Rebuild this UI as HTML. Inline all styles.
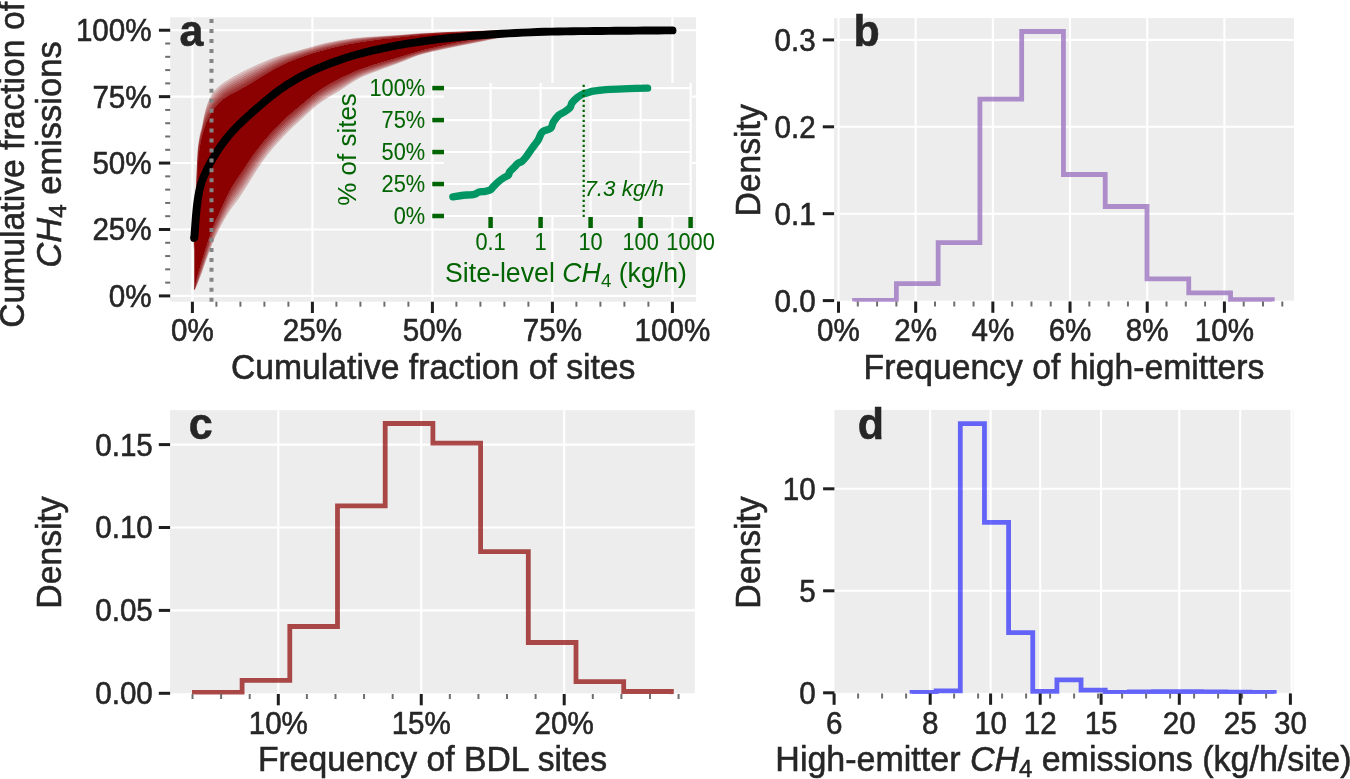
<!DOCTYPE html>
<html><head><meta charset="utf-8"><style>
html,body{margin:0;padding:0;background:#fff;width:1350px;height:779px;overflow:hidden}
svg{display:block;font-family:"Liberation Sans", sans-serif;will-change:transform}
</style></head><body>
<svg width="1350" height="779" viewBox="0 0 1350 779">
<rect x="170.2" y="17.3" width="525.8" height="284.4" fill="#EDEDED"/>
<line x1="170.2" y1="295.9" x2="696" y2="295.9" stroke="#FFFFFF" stroke-width="2.1" />
<line x1="192.4" y1="17.3" x2="192.4" y2="301.7" stroke="#FFFFFF" stroke-width="2.1" />
<line x1="170.2" y1="229.48" x2="696" y2="229.48" stroke="#FFFFFF" stroke-width="2.1" />
<line x1="312.4" y1="17.3" x2="312.4" y2="301.7" stroke="#FFFFFF" stroke-width="2.1" />
<line x1="170.2" y1="163.07" x2="696" y2="163.07" stroke="#FFFFFF" stroke-width="2.1" />
<line x1="432.4" y1="17.3" x2="432.4" y2="301.7" stroke="#FFFFFF" stroke-width="2.1" />
<line x1="170.2" y1="96.65" x2="696" y2="96.65" stroke="#FFFFFF" stroke-width="2.1" />
<line x1="552.4" y1="17.3" x2="552.4" y2="301.7" stroke="#FFFFFF" stroke-width="2.1" />
<line x1="170.2" y1="30.24" x2="696" y2="30.24" stroke="#FFFFFF" stroke-width="2.1" />
<line x1="672.4" y1="17.3" x2="672.4" y2="301.7" stroke="#FFFFFF" stroke-width="2.1" />
<path d="M194.3,289 L194.32,288.91 L194.39,288.61 L194.51,288.1 L194.67,287.42 L194.88,286.53 L195.14,285.43 L195.44,284.19 L195.78,282.79 L196.18,281.19 L196.62,279.46 L197.11,277.59 L197.64,275.62 L198.22,273.53 L198.85,271.31 L199.52,269 L200.24,266.56 L201,264 L201.82,261.27 L202.67,258.47 L203.58,255.53 L204.53,252.49 L205.53,249.34 L206.57,246.09 L207.66,242.68 L208.8,239.1 L209.98,235.45 L211.21,231.81 L212.49,228.29 L213.81,224.97 L215.18,221.74 L216.59,218.59 L218.06,215.41 L219.56,212.22 L221.12,208.88 L222.72,205.4 L224.37,201.83 L226.06,198.23 L227.8,194.66 L229.59,191.19 L231.42,187.93 L233.3,184.85 L235.22,181.9 L237.19,179.01 L239.21,176.1 L241.28,173.08 L243.39,169.89 L245.55,166.56 L247.75,163.17 L250,159.76 L252,156.81 L257.04,149.93 L262.09,143.51 L267.13,137.5 L272.17,131.82 L277.22,126.43 L282.26,121.39 L287.3,116.72 L292.35,112.36 L297.39,108.16 L302.43,103.96 L307.48,99.7 L312.52,95.55 L317.57,91.69 L322.61,88.29 L327.65,85.2 L332.7,82.33 L337.74,79.65 L342.78,77.11 L347.83,74.69 L352.87,72.41 L357.91,70.31 L362.96,68.41 L368,66.67 L373.04,65.05 L378.09,63.49 L383.13,61.95 L388.17,60.49 L393.22,59.06 L398.26,57.61 L403.3,56.09 L408.35,54.49 L413.39,52.91 L418.43,51.43 L423.48,50.1 L428.52,48.85 L433.57,47.66 L438.61,46.52 L443.65,45.43 L448.7,44.37 L453.74,43.34 L458.78,42.34 L463.83,41.37 L468.87,40.43 L473.91,39.53 L478.96,38.67 L484,37.84 L489.04,37.04 L494.09,36.28 L499.13,35.61 L504.17,35.01 L509.22,34.46 L514.26,33.97 L519.3,33.55 L524.35,33.19 L529.39,32.84 L534.43,32.52 L539.48,32.22 L544.52,31.95 L549.57,31.71 L554.61,31.49 L559.65,31.31 L564.7,31.15 L569.74,31 L574.78,30.86 L579.83,30.73 L584.87,30.61 L589.91,30.52 L594.96,30.45 L600,30.4 L600,30.2 L594.96,30.2 L589.91,30.21 L584.87,30.22 L579.83,30.23 L574.78,30.24 L569.74,30.26 L564.7,30.28 L559.65,30.3 L554.61,30.33 L549.57,30.37 L544.52,30.42 L539.48,30.48 L534.43,30.54 L529.39,30.61 L524.35,30.68 L519.3,30.77 L514.26,30.87 L509.22,30.98 L504.17,31.1 L499.13,31.22 L494.09,31.36 L489.04,31.51 L484,31.67 L478.96,31.84 L473.91,32.01 L468.87,32.19 L463.83,32.39 L458.78,32.59 L453.74,32.82 L448.7,33.07 L443.65,33.34 L438.61,33.64 L433.57,33.97 L428.52,34.33 L423.48,34.71 L418.43,35.14 L413.39,35.65 L408.35,36.24 L403.3,36.83 L398.26,37.38 L393.22,37.89 L388.17,38.4 L383.13,38.93 L378.09,39.54 L373.04,40.2 L368,40.91 L362.96,41.67 L357.91,42.5 L352.87,43.39 L347.83,44.37 L342.78,45.45 L337.74,46.61 L332.7,47.82 L327.65,49.1 L322.61,50.44 L317.57,51.86 L312.52,53.36 L307.48,54.95 L302.43,56.65 L297.39,58.45 L292.35,60.43 L287.3,62.59 L282.26,64.91 L277.22,67.42 L272.17,70.25 L267.13,73.24 L262.09,76.26 L257.04,79.4 L252,82.5 L250,83.7 L247.75,85.04 L245.55,86.34 L243.39,87.6 L241.28,88.79 L239.21,89.93 L237.19,90.98 L235.22,91.97 L233.3,92.95 L231.42,93.94 L229.59,94.92 L227.8,95.9 L226.06,96.96 L224.37,98.14 L222.72,99.41 L221.12,100.76 L219.56,102.21 L218.06,103.8 L216.59,105.48 L215.18,107.21 L213.81,109.03 L212.49,110.92 L211.21,113.01 L209.98,115.45 L208.8,117.73 L207.66,119.7 L206.57,121.99 L205.53,124.74 L204.53,127.53 L203.58,130.28 L202.67,133.34 L201.82,136.64 L201,140.26 L200.24,144.1 L199.52,148.27 L198.85,153.29 L198.22,160 L197.64,169.8 L197.11,181.79 L196.62,191.53 L196.18,200.42 L195.78,209.05 L195.44,216.73 L195.14,223.71 L194.88,229.97 L194.67,235.93 L194.51,241.52 L194.39,246.24 L194.32,249.15 L194.3,250 Z" fill="#8B0000"/>
<path d="M194.3,289.02 L194.32,288.93 L194.39,288.64 L194.51,288.13 L194.67,287.45 L194.88,286.57 L195.14,285.49 L195.44,284.26 L195.78,282.88 L196.18,281.28 L196.62,279.57 L197.11,277.71 L197.64,275.76 L198.22,273.68 L198.85,271.47 L199.52,269.18 L200.24,266.75 L201,264.2 L201.82,261.48 L202.67,258.69 L203.58,255.75 L204.53,252.72 L205.53,249.57 L206.57,246.34 L207.66,242.93 L208.8,239.36 L209.98,235.72 L211.21,232.08 L212.49,228.57 L213.81,225.26 L215.18,222.03 L216.59,218.89 L218.06,215.72 L219.56,212.53 L221.12,209.19 L222.72,205.73 L224.37,202.16 L226.06,198.58 L227.8,195.03 L229.59,191.57 L231.42,188.33 L233.3,185.26 L235.22,182.32 L237.19,179.43 L239.21,176.52 L241.28,173.5 L243.39,170.3 L245.55,166.98 L247.75,163.58 L250,160.16 L252,157.21 L257.04,150.31 L262.09,143.87 L267.13,137.84 L272.17,132.16 L277.22,126.76 L282.26,121.71 L287.3,117.03 L292.35,112.65 L297.39,108.44 L302.43,104.24 L307.48,99.96 L312.52,95.81 L317.57,91.94 L322.61,88.54 L327.65,85.44 L332.7,82.57 L337.74,79.89 L342.78,77.33 L347.83,74.89 L352.87,72.6 L357.91,70.48 L362.96,68.56 L368,66.82 L373.04,65.19 L378.09,63.62 L383.13,62.08 L388.17,60.61 L393.22,59.17 L398.26,57.72 L403.3,56.19 L408.35,54.58 L413.39,52.99 L418.43,51.5 L423.48,50.16 L428.52,48.91 L433.57,47.72 L438.61,46.59 L443.65,45.5 L448.7,44.44 L453.74,43.4 L458.78,42.4 L463.83,41.43 L468.87,40.5 L473.91,39.6 L478.96,38.73 L484,37.9 L489.04,37.09 L494.09,36.33 L499.13,35.65 L504.17,35.05 L509.22,34.5 L514.26,34 L519.3,33.57 L524.35,33.21 L529.39,32.86 L534.43,32.53 L539.48,32.23 L544.52,31.96 L549.57,31.71 L554.61,31.5 L559.65,31.32 L564.7,31.16 L569.74,31 L574.78,30.86 L579.83,30.73 L584.87,30.61 L589.91,30.52 L594.96,30.45 L600,30.4 L600,30.4 L594.96,30.45 L589.91,30.52 L584.87,30.61 L579.83,30.73 L574.78,30.86 L569.74,31 L564.7,31.15 L559.65,31.31 L554.61,31.49 L549.57,31.71 L544.52,31.95 L539.48,32.22 L534.43,32.52 L529.39,32.84 L524.35,33.19 L519.3,33.55 L514.26,33.97 L509.22,34.46 L504.17,35.01 L499.13,35.61 L494.09,36.28 L489.04,37.04 L484,37.84 L478.96,38.67 L473.91,39.53 L468.87,40.43 L463.83,41.37 L458.78,42.34 L453.74,43.34 L448.7,44.37 L443.65,45.43 L438.61,46.52 L433.57,47.66 L428.52,48.85 L423.48,50.1 L418.43,51.43 L413.39,52.91 L408.35,54.49 L403.3,56.09 L398.26,57.61 L393.22,59.06 L388.17,60.49 L383.13,61.95 L378.09,63.49 L373.04,65.05 L368,66.67 L362.96,68.41 L357.91,70.31 L352.87,72.41 L347.83,74.69 L342.78,77.11 L337.74,79.65 L332.7,82.33 L327.65,85.2 L322.61,88.29 L317.57,91.69 L312.52,95.55 L307.48,99.7 L302.43,103.96 L297.39,108.16 L292.35,112.36 L287.3,116.72 L282.26,121.39 L277.22,126.43 L272.17,131.82 L267.13,137.5 L262.09,143.51 L257.04,149.93 L252,156.81 L250,159.76 L247.75,163.17 L245.55,166.56 L243.39,169.89 L241.28,173.08 L239.21,176.1 L237.19,179.01 L235.22,181.9 L233.3,184.85 L231.42,187.93 L229.59,191.19 L227.8,194.66 L226.06,198.23 L224.37,201.83 L222.72,205.4 L221.12,208.88 L219.56,212.22 L218.06,215.41 L216.59,218.59 L215.18,221.74 L213.81,224.97 L212.49,228.29 L211.21,231.81 L209.98,235.45 L208.8,239.1 L207.66,242.68 L206.57,246.09 L205.53,249.34 L204.53,252.49 L203.58,255.53 L202.67,258.47 L201.82,261.27 L201,264 L200.24,266.56 L199.52,269 L198.85,271.31 L198.22,273.53 L197.64,275.62 L197.11,277.59 L196.62,279.46 L196.18,281.19 L195.78,282.79 L195.44,284.19 L195.14,285.43 L194.88,286.53 L194.67,287.42 L194.51,288.1 L194.39,288.61 L194.32,288.91 L194.3,289 Z" fill="#8B0000" fill-opacity="0.17"/>
<path d="M194.3,250 L194.32,249.15 L194.39,246.24 L194.51,241.52 L194.67,235.93 L194.88,229.97 L195.14,223.71 L195.44,216.73 L195.78,209.05 L196.18,200.42 L196.62,191.53 L197.11,181.79 L197.64,169.8 L198.22,160 L198.85,153.29 L199.52,148.27 L200.24,144.1 L201,140.26 L201.82,136.64 L202.67,133.34 L203.58,130.28 L204.53,127.53 L205.53,124.74 L206.57,121.99 L207.66,119.7 L208.8,117.73 L209.98,115.45 L211.21,113.01 L212.49,110.92 L213.81,109.03 L215.18,107.21 L216.59,105.48 L218.06,103.8 L219.56,102.21 L221.12,100.76 L222.72,99.41 L224.37,98.14 L226.06,96.96 L227.8,95.9 L229.59,94.92 L231.42,93.94 L233.3,92.95 L235.22,91.97 L237.19,90.98 L239.21,89.93 L241.28,88.79 L243.39,87.6 L245.55,86.34 L247.75,85.04 L250,83.7 L252,82.5 L257.04,79.4 L262.09,76.26 L267.13,73.24 L272.17,70.25 L277.22,67.42 L282.26,64.91 L287.3,62.59 L292.35,60.43 L297.39,58.45 L302.43,56.65 L307.48,54.95 L312.52,53.36 L317.57,51.86 L322.61,50.44 L327.65,49.1 L332.7,47.82 L337.74,46.61 L342.78,45.45 L347.83,44.37 L352.87,43.39 L357.91,42.5 L362.96,41.67 L368,40.91 L373.04,40.2 L378.09,39.54 L383.13,38.93 L388.17,38.4 L393.22,37.89 L398.26,37.38 L403.3,36.83 L408.35,36.24 L413.39,35.65 L418.43,35.14 L423.48,34.71 L428.52,34.33 L433.57,33.97 L438.61,33.64 L443.65,33.34 L448.7,33.07 L453.74,32.82 L458.78,32.59 L463.83,32.39 L468.87,32.19 L473.91,32.01 L478.96,31.84 L484,31.67 L489.04,31.51 L494.09,31.36 L499.13,31.22 L504.17,31.1 L509.22,30.98 L514.26,30.87 L519.3,30.77 L524.35,30.68 L529.39,30.61 L534.43,30.54 L539.48,30.48 L544.52,30.42 L549.57,30.37 L554.61,30.33 L559.65,30.3 L564.7,30.28 L569.74,30.26 L574.78,30.24 L579.83,30.23 L584.87,30.22 L589.91,30.21 L594.96,30.2 L600,30.2 L600,30.2 L594.96,30.2 L589.91,30.2 L584.87,30.21 L579.83,30.23 L574.78,30.24 L569.74,30.26 L564.7,30.28 L559.65,30.3 L554.61,30.32 L549.57,30.36 L544.52,30.41 L539.48,30.47 L534.43,30.53 L529.39,30.6 L524.35,30.68 L519.3,30.76 L514.26,30.86 L509.22,30.97 L504.17,31.09 L499.13,31.21 L494.09,31.34 L489.04,31.49 L484,31.65 L478.96,31.82 L473.91,32 L468.87,32.18 L463.83,32.37 L458.78,32.58 L453.74,32.81 L448.7,33.05 L443.65,33.32 L438.61,33.62 L433.57,33.95 L428.52,34.31 L423.48,34.69 L418.43,35.11 L413.39,35.63 L408.35,36.21 L403.3,36.8 L398.26,37.34 L393.22,37.85 L388.17,38.35 L383.13,38.88 L378.09,39.48 L373.04,40.13 L368,40.83 L362.96,41.59 L357.91,42.41 L352.87,43.29 L347.83,44.27 L342.78,45.35 L337.74,46.5 L332.7,47.71 L327.65,48.98 L322.61,50.32 L317.57,51.73 L312.52,53.23 L307.48,54.82 L302.43,56.51 L297.39,58.31 L292.35,60.28 L287.3,62.42 L282.26,64.72 L277.22,67.21 L272.17,70.02 L267.13,72.99 L262.09,75.99 L257.04,79.12 L252,82.2 L250,83.39 L247.75,84.73 L245.55,86.03 L243.39,87.28 L241.28,88.47 L239.21,89.61 L237.19,90.66 L235.22,91.65 L233.3,92.63 L231.42,93.62 L229.59,94.6 L227.8,95.59 L226.06,96.65 L224.37,97.83 L222.72,99.1 L221.12,100.45 L219.56,101.89 L218.06,103.48 L216.59,105.15 L215.18,106.87 L213.81,108.69 L212.49,110.59 L211.21,112.68 L209.98,115.12 L208.8,117.39 L207.66,119.39 L206.57,121.7 L205.53,124.47 L204.53,127.29 L203.58,130.08 L202.67,133.18 L201.82,136.48 L201,140.08 L200.24,143.91 L199.52,148.08 L198.85,153.08 L198.22,159.76 L197.64,169.56 L197.11,181.55 L196.62,191.33 L196.18,200.24 L195.78,208.88 L195.44,216.57 L195.14,223.56 L194.88,229.84 L194.67,235.8 L194.51,241.38 L194.39,246.11 L194.32,249.04 L194.3,249.89 Z" fill="#8B0000" fill-opacity="0.17"/>
<path d="M194.3,289.06 L194.32,288.98 L194.39,288.69 L194.51,288.2 L194.67,287.54 L194.88,286.68 L195.14,285.62 L195.44,284.42 L195.78,283.07 L196.18,281.5 L196.62,279.82 L197.11,278 L197.64,276.08 L198.22,274.03 L198.85,271.85 L199.52,269.58 L200.24,267.17 L201,264.65 L201.82,261.95 L202.67,259.18 L203.58,256.25 L204.53,253.23 L205.53,250.1 L206.57,246.88 L207.66,243.49 L208.8,239.94 L209.98,236.32 L211.21,232.71 L212.49,229.21 L213.81,225.91 L215.18,222.7 L216.59,219.56 L218.06,216.39 L219.56,213.22 L221.12,209.9 L222.72,206.45 L224.37,202.92 L226.06,199.37 L227.8,195.85 L229.59,192.44 L231.42,189.22 L233.3,186.17 L235.22,183.25 L237.19,180.37 L239.21,177.46 L241.28,174.44 L243.39,171.24 L245.55,167.91 L247.75,164.51 L250,161.08 L252,158.12 L257.04,151.17 L262.09,144.67 L267.13,138.61 L272.17,132.91 L277.22,127.49 L282.26,122.42 L287.3,117.72 L292.35,113.31 L297.39,109.08 L302.43,104.86 L307.48,100.57 L312.52,96.39 L317.57,92.51 L322.61,89.09 L327.65,85.99 L332.7,83.11 L337.74,80.41 L342.78,77.83 L347.83,75.35 L352.87,73.01 L357.91,70.85 L362.96,68.91 L368,67.15 L373.04,65.51 L378.09,63.93 L383.13,62.37 L388.17,60.88 L393.22,59.42 L398.26,57.95 L403.3,56.41 L408.35,54.77 L413.39,53.16 L418.43,51.66 L423.48,50.32 L428.52,49.07 L433.57,47.88 L438.61,46.74 L443.65,45.65 L448.7,44.59 L453.74,43.56 L458.78,42.55 L463.83,41.58 L468.87,40.64 L473.91,39.74 L478.96,38.87 L484,38.03 L489.04,37.2 L494.09,36.43 L499.13,35.74 L504.17,35.13 L509.22,34.57 L514.26,34.06 L519.3,33.62 L524.35,33.24 L529.39,32.89 L534.43,32.56 L539.48,32.25 L544.52,31.98 L549.57,31.73 L554.61,31.51 L559.65,31.32 L564.7,31.16 L569.74,31.01 L574.78,30.86 L579.83,30.73 L584.87,30.62 L589.91,30.52 L594.96,30.45 L600,30.41 L600,30.4 L594.96,30.45 L589.91,30.52 L584.87,30.61 L579.83,30.73 L574.78,30.86 L569.74,31 L564.7,31.15 L559.65,31.31 L554.61,31.49 L549.57,31.71 L544.52,31.95 L539.48,32.22 L534.43,32.52 L529.39,32.84 L524.35,33.19 L519.3,33.55 L514.26,33.97 L509.22,34.46 L504.17,35.01 L499.13,35.61 L494.09,36.28 L489.04,37.04 L484,37.84 L478.96,38.67 L473.91,39.53 L468.87,40.43 L463.83,41.37 L458.78,42.34 L453.74,43.34 L448.7,44.37 L443.65,45.43 L438.61,46.52 L433.57,47.66 L428.52,48.85 L423.48,50.1 L418.43,51.43 L413.39,52.91 L408.35,54.49 L403.3,56.09 L398.26,57.61 L393.22,59.06 L388.17,60.49 L383.13,61.95 L378.09,63.49 L373.04,65.05 L368,66.67 L362.96,68.41 L357.91,70.31 L352.87,72.41 L347.83,74.69 L342.78,77.11 L337.74,79.65 L332.7,82.33 L327.65,85.2 L322.61,88.29 L317.57,91.69 L312.52,95.55 L307.48,99.7 L302.43,103.96 L297.39,108.16 L292.35,112.36 L287.3,116.72 L282.26,121.39 L277.22,126.43 L272.17,131.82 L267.13,137.5 L262.09,143.51 L257.04,149.93 L252,156.81 L250,159.76 L247.75,163.17 L245.55,166.56 L243.39,169.89 L241.28,173.08 L239.21,176.1 L237.19,179.01 L235.22,181.9 L233.3,184.85 L231.42,187.93 L229.59,191.19 L227.8,194.66 L226.06,198.23 L224.37,201.83 L222.72,205.4 L221.12,208.88 L219.56,212.22 L218.06,215.41 L216.59,218.59 L215.18,221.74 L213.81,224.97 L212.49,228.29 L211.21,231.81 L209.98,235.45 L208.8,239.1 L207.66,242.68 L206.57,246.09 L205.53,249.34 L204.53,252.49 L203.58,255.53 L202.67,258.47 L201.82,261.27 L201,264 L200.24,266.56 L199.52,269 L198.85,271.31 L198.22,273.53 L197.64,275.62 L197.11,277.59 L196.62,279.46 L196.18,281.19 L195.78,282.79 L195.44,284.19 L195.14,285.43 L194.88,286.53 L194.67,287.42 L194.51,288.1 L194.39,288.61 L194.32,288.91 L194.3,289 Z" fill="#8B0000" fill-opacity="0.17"/>
<path d="M194.3,250 L194.32,249.15 L194.39,246.24 L194.51,241.52 L194.67,235.93 L194.88,229.97 L195.14,223.71 L195.44,216.73 L195.78,209.05 L196.18,200.42 L196.62,191.53 L197.11,181.79 L197.64,169.8 L198.22,160 L198.85,153.29 L199.52,148.27 L200.24,144.1 L201,140.26 L201.82,136.64 L202.67,133.34 L203.58,130.28 L204.53,127.53 L205.53,124.74 L206.57,121.99 L207.66,119.7 L208.8,117.73 L209.98,115.45 L211.21,113.01 L212.49,110.92 L213.81,109.03 L215.18,107.21 L216.59,105.48 L218.06,103.8 L219.56,102.21 L221.12,100.76 L222.72,99.41 L224.37,98.14 L226.06,96.96 L227.8,95.9 L229.59,94.92 L231.42,93.94 L233.3,92.95 L235.22,91.97 L237.19,90.98 L239.21,89.93 L241.28,88.79 L243.39,87.6 L245.55,86.34 L247.75,85.04 L250,83.7 L252,82.5 L257.04,79.4 L262.09,76.26 L267.13,73.24 L272.17,70.25 L277.22,67.42 L282.26,64.91 L287.3,62.59 L292.35,60.43 L297.39,58.45 L302.43,56.65 L307.48,54.95 L312.52,53.36 L317.57,51.86 L322.61,50.44 L327.65,49.1 L332.7,47.82 L337.74,46.61 L342.78,45.45 L347.83,44.37 L352.87,43.39 L357.91,42.5 L362.96,41.67 L368,40.91 L373.04,40.2 L378.09,39.54 L383.13,38.93 L388.17,38.4 L393.22,37.89 L398.26,37.38 L403.3,36.83 L408.35,36.24 L413.39,35.65 L418.43,35.14 L423.48,34.71 L428.52,34.33 L433.57,33.97 L438.61,33.64 L443.65,33.34 L448.7,33.07 L453.74,32.82 L458.78,32.59 L463.83,32.39 L468.87,32.19 L473.91,32.01 L478.96,31.84 L484,31.67 L489.04,31.51 L494.09,31.36 L499.13,31.22 L504.17,31.1 L509.22,30.98 L514.26,30.87 L519.3,30.77 L524.35,30.68 L529.39,30.61 L534.43,30.54 L539.48,30.48 L544.52,30.42 L549.57,30.37 L554.61,30.33 L559.65,30.3 L564.7,30.28 L569.74,30.26 L574.78,30.24 L579.83,30.23 L584.87,30.22 L589.91,30.21 L594.96,30.2 L600,30.2 L600,30.19 L594.96,30.19 L589.91,30.19 L584.87,30.2 L579.83,30.21 L574.78,30.23 L569.74,30.25 L564.7,30.26 L559.65,30.28 L554.61,30.31 L549.57,30.35 L544.52,30.4 L539.48,30.45 L534.43,30.52 L529.39,30.58 L524.35,30.66 L519.3,30.74 L514.26,30.84 L509.22,30.95 L504.17,31.06 L499.13,31.18 L494.09,31.32 L489.04,31.47 L484,31.63 L478.96,31.8 L473.91,31.97 L468.87,32.15 L463.83,32.35 L458.78,32.55 L453.74,32.78 L448.7,33.02 L443.65,33.29 L438.61,33.58 L433.57,33.91 L428.52,34.26 L423.48,34.64 L418.43,35.06 L413.39,35.56 L408.35,36.13 L403.3,36.72 L398.26,37.26 L393.22,37.75 L388.17,38.25 L383.13,38.77 L378.09,39.35 L373.04,39.99 L368,40.68 L362.96,41.42 L357.91,42.22 L352.87,43.09 L347.83,44.05 L342.78,45.11 L337.74,46.25 L332.7,47.45 L327.65,48.7 L322.61,50.03 L317.57,51.45 L312.52,52.94 L307.48,54.53 L302.43,56.21 L297.39,57.98 L292.35,59.92 L287.3,62.02 L282.26,64.29 L277.22,66.74 L272.17,69.51 L267.13,72.44 L262.09,75.4 L257.04,78.48 L252,81.53 L250,82.71 L247.75,84.04 L245.55,85.33 L243.39,86.57 L241.28,87.76 L239.21,88.89 L237.19,89.94 L235.22,90.94 L233.3,91.92 L231.42,92.92 L229.59,93.91 L227.8,94.9 L226.06,95.96 L224.37,97.13 L222.72,98.39 L221.12,99.73 L219.56,101.17 L218.06,102.75 L216.59,104.41 L215.18,106.12 L213.81,107.93 L212.49,109.83 L211.21,111.93 L209.98,114.36 L208.8,116.65 L207.66,118.69 L206.57,121.05 L205.53,123.87 L204.53,126.74 L203.58,129.63 L202.67,132.82 L201.82,136.12 L201,139.69 L200.24,143.49 L199.52,147.65 L198.85,152.6 L198.22,159.21 L197.64,169.02 L197.11,181 L196.62,190.88 L196.18,199.84 L195.78,208.49 L195.44,216.2 L195.14,223.23 L194.88,229.53 L194.67,235.5 L194.51,241.07 L194.39,245.83 L194.32,248.78 L194.3,249.64 Z" fill="#8B0000" fill-opacity="0.17"/>
<path d="M194.3,289.13 L194.32,289.05 L194.39,288.77 L194.51,288.29 L194.67,287.66 L194.88,286.83 L195.14,285.81 L195.44,284.64 L195.78,283.34 L196.18,281.82 L196.62,280.18 L197.11,278.41 L197.64,276.53 L198.22,274.52 L198.85,272.38 L199.52,270.15 L200.24,267.78 L201,265.29 L201.82,262.62 L202.67,259.87 L203.58,256.96 L204.53,253.96 L205.53,250.86 L206.57,247.66 L207.66,244.3 L208.8,240.78 L209.98,237.19 L211.21,233.61 L212.49,230.13 L213.81,226.85 L215.18,223.65 L216.59,220.52 L218.06,217.37 L219.56,214.2 L221.12,210.91 L222.72,207.5 L224.37,204.01 L226.06,200.51 L227.8,197.04 L229.59,193.67 L231.42,190.5 L233.3,187.49 L235.22,184.59 L237.19,181.72 L239.21,178.82 L241.28,175.79 L243.39,172.58 L245.55,169.24 L247.75,165.83 L250,162.39 L252,159.42 L257.04,152.41 L262.09,145.83 L267.13,139.72 L272.17,133.98 L277.22,128.54 L282.26,123.44 L287.3,118.71 L292.35,114.26 L297.39,110 L302.43,105.75 L307.48,101.43 L312.52,97.23 L317.57,93.32 L322.61,89.89 L327.65,86.78 L332.7,83.89 L337.74,81.17 L342.78,78.55 L347.83,76 L352.87,73.59 L357.91,71.38 L362.96,69.4 L368,67.62 L373.04,65.96 L378.09,64.36 L383.13,62.78 L388.17,61.27 L393.22,59.79 L398.26,58.29 L403.3,56.72 L408.35,55.05 L413.39,53.41 L418.43,51.89 L423.48,50.54 L428.52,49.28 L433.57,48.09 L438.61,46.96 L443.65,45.87 L448.7,44.81 L453.74,43.77 L458.78,42.77 L463.83,41.79 L468.87,40.85 L473.91,39.94 L478.96,39.06 L484,38.21 L489.04,37.37 L494.09,36.58 L499.13,35.87 L504.17,35.25 L509.22,34.67 L514.26,34.15 L519.3,33.7 L524.35,33.3 L529.39,32.94 L534.43,32.6 L539.48,32.29 L544.52,32 L549.57,31.74 L554.61,31.52 L559.65,31.34 L564.7,31.17 L569.74,31.02 L574.78,30.87 L579.83,30.74 L584.87,30.62 L589.91,30.53 L594.96,30.46 L600,30.41 L600,30.4 L594.96,30.45 L589.91,30.52 L584.87,30.61 L579.83,30.73 L574.78,30.86 L569.74,31 L564.7,31.15 L559.65,31.31 L554.61,31.49 L549.57,31.71 L544.52,31.95 L539.48,32.22 L534.43,32.52 L529.39,32.84 L524.35,33.19 L519.3,33.55 L514.26,33.97 L509.22,34.46 L504.17,35.01 L499.13,35.61 L494.09,36.28 L489.04,37.04 L484,37.84 L478.96,38.67 L473.91,39.53 L468.87,40.43 L463.83,41.37 L458.78,42.34 L453.74,43.34 L448.7,44.37 L443.65,45.43 L438.61,46.52 L433.57,47.66 L428.52,48.85 L423.48,50.1 L418.43,51.43 L413.39,52.91 L408.35,54.49 L403.3,56.09 L398.26,57.61 L393.22,59.06 L388.17,60.49 L383.13,61.95 L378.09,63.49 L373.04,65.05 L368,66.67 L362.96,68.41 L357.91,70.31 L352.87,72.41 L347.83,74.69 L342.78,77.11 L337.74,79.65 L332.7,82.33 L327.65,85.2 L322.61,88.29 L317.57,91.69 L312.52,95.55 L307.48,99.7 L302.43,103.96 L297.39,108.16 L292.35,112.36 L287.3,116.72 L282.26,121.39 L277.22,126.43 L272.17,131.82 L267.13,137.5 L262.09,143.51 L257.04,149.93 L252,156.81 L250,159.76 L247.75,163.17 L245.55,166.56 L243.39,169.89 L241.28,173.08 L239.21,176.1 L237.19,179.01 L235.22,181.9 L233.3,184.85 L231.42,187.93 L229.59,191.19 L227.8,194.66 L226.06,198.23 L224.37,201.83 L222.72,205.4 L221.12,208.88 L219.56,212.22 L218.06,215.41 L216.59,218.59 L215.18,221.74 L213.81,224.97 L212.49,228.29 L211.21,231.81 L209.98,235.45 L208.8,239.1 L207.66,242.68 L206.57,246.09 L205.53,249.34 L204.53,252.49 L203.58,255.53 L202.67,258.47 L201.82,261.27 L201,264 L200.24,266.56 L199.52,269 L198.85,271.31 L198.22,273.53 L197.64,275.62 L197.11,277.59 L196.62,279.46 L196.18,281.19 L195.78,282.79 L195.44,284.19 L195.14,285.43 L194.88,286.53 L194.67,287.42 L194.51,288.1 L194.39,288.61 L194.32,288.91 L194.3,289 Z" fill="#8B0000" fill-opacity="0.17"/>
<path d="M194.3,250 L194.32,249.15 L194.39,246.24 L194.51,241.52 L194.67,235.93 L194.88,229.97 L195.14,223.71 L195.44,216.73 L195.78,209.05 L196.18,200.42 L196.62,191.53 L197.11,181.79 L197.64,169.8 L198.22,160 L198.85,153.29 L199.52,148.27 L200.24,144.1 L201,140.26 L201.82,136.64 L202.67,133.34 L203.58,130.28 L204.53,127.53 L205.53,124.74 L206.57,121.99 L207.66,119.7 L208.8,117.73 L209.98,115.45 L211.21,113.01 L212.49,110.92 L213.81,109.03 L215.18,107.21 L216.59,105.48 L218.06,103.8 L219.56,102.21 L221.12,100.76 L222.72,99.41 L224.37,98.14 L226.06,96.96 L227.8,95.9 L229.59,94.92 L231.42,93.94 L233.3,92.95 L235.22,91.97 L237.19,90.98 L239.21,89.93 L241.28,88.79 L243.39,87.6 L245.55,86.34 L247.75,85.04 L250,83.7 L252,82.5 L257.04,79.4 L262.09,76.26 L267.13,73.24 L272.17,70.25 L277.22,67.42 L282.26,64.91 L287.3,62.59 L292.35,60.43 L297.39,58.45 L302.43,56.65 L307.48,54.95 L312.52,53.36 L317.57,51.86 L322.61,50.44 L327.65,49.1 L332.7,47.82 L337.74,46.61 L342.78,45.45 L347.83,44.37 L352.87,43.39 L357.91,42.5 L362.96,41.67 L368,40.91 L373.04,40.2 L378.09,39.54 L383.13,38.93 L388.17,38.4 L393.22,37.89 L398.26,37.38 L403.3,36.83 L408.35,36.24 L413.39,35.65 L418.43,35.14 L423.48,34.71 L428.52,34.33 L433.57,33.97 L438.61,33.64 L443.65,33.34 L448.7,33.07 L453.74,32.82 L458.78,32.59 L463.83,32.39 L468.87,32.19 L473.91,32.01 L478.96,31.84 L484,31.67 L489.04,31.51 L494.09,31.36 L499.13,31.22 L504.17,31.1 L509.22,30.98 L514.26,30.87 L519.3,30.77 L524.35,30.68 L529.39,30.61 L534.43,30.54 L539.48,30.48 L544.52,30.42 L549.57,30.37 L554.61,30.33 L559.65,30.3 L564.7,30.28 L569.74,30.26 L574.78,30.24 L579.83,30.23 L584.87,30.22 L589.91,30.21 L594.96,30.2 L600,30.2 L600,30.17 L594.96,30.18 L589.91,30.18 L584.87,30.19 L579.83,30.2 L574.78,30.21 L569.74,30.23 L564.7,30.24 L559.65,30.26 L554.61,30.29 L549.57,30.33 L544.52,30.38 L539.48,30.43 L534.43,30.49 L529.39,30.56 L524.35,30.63 L519.3,30.71 L514.26,30.81 L509.22,30.91 L504.17,31.03 L499.13,31.14 L494.09,31.28 L489.04,31.43 L484,31.59 L478.96,31.76 L473.91,31.93 L468.87,32.11 L463.83,32.3 L458.78,32.51 L453.74,32.73 L448.7,32.97 L443.65,33.24 L438.61,33.53 L433.57,33.85 L428.52,34.19 L423.48,34.57 L418.43,34.98 L413.39,35.48 L408.35,36.03 L403.3,36.6 L398.26,37.13 L393.22,37.62 L388.17,38.1 L383.13,38.61 L378.09,39.17 L373.04,39.79 L368,40.45 L362.96,41.16 L357.91,41.94 L352.87,42.79 L347.83,43.74 L342.78,44.78 L337.74,45.89 L332.7,47.07 L327.65,48.31 L322.61,49.63 L317.57,51.04 L312.52,52.53 L307.48,54.11 L302.43,55.77 L297.39,57.52 L292.35,59.41 L287.3,61.46 L282.26,63.67 L277.22,66.07 L272.17,68.78 L267.13,71.64 L262.09,74.55 L257.04,77.57 L252,80.56 L250,81.73 L247.75,83.04 L245.55,84.32 L243.39,85.55 L241.28,86.73 L239.21,87.86 L237.19,88.91 L235.22,89.92 L233.3,90.91 L231.42,91.91 L229.59,92.9 L227.8,93.91 L226.06,94.98 L224.37,96.13 L222.72,97.38 L221.12,98.71 L219.56,100.15 L218.06,101.71 L216.59,103.34 L215.18,105.04 L213.81,106.85 L212.49,108.75 L211.21,110.85 L209.98,113.27 L208.8,115.58 L207.66,117.68 L206.57,120.12 L205.53,123 L204.53,125.97 L203.58,128.99 L202.67,132.29 L201.82,135.61 L201,139.12 L200.24,142.89 L199.52,147.03 L198.85,151.92 L198.22,158.42 L197.64,168.25 L197.11,180.22 L196.62,190.24 L196.18,199.25 L195.78,207.94 L195.44,215.68 L195.14,222.75 L194.88,229.1 L194.67,235.06 L194.51,240.63 L194.39,245.41 L194.32,248.4 L194.3,249.28 Z" fill="#8B0000" fill-opacity="0.17"/>
<path d="M194.3,289.21 L194.32,289.13 L194.39,288.87 L194.51,288.41 L194.67,287.81 L194.88,287.02 L195.14,286.04 L195.44,284.93 L195.78,283.68 L196.18,282.22 L196.62,280.64 L197.11,278.92 L197.64,277.1 L198.22,275.15 L198.85,273.06 L199.52,270.88 L200.24,268.55 L201,266.11 L201.82,263.47 L202.67,260.75 L203.58,257.87 L204.53,254.89 L205.53,251.81 L206.57,248.65 L207.66,245.32 L208.8,241.83 L209.98,238.29 L211.21,234.74 L212.49,231.3 L213.81,228.03 L215.18,224.85 L216.59,221.73 L218.06,218.6 L219.56,215.45 L221.12,212.18 L222.72,208.82 L224.37,205.39 L226.06,201.95 L227.8,198.54 L229.59,195.24 L231.42,192.12 L233.3,189.15 L235.22,186.28 L237.19,183.44 L239.21,180.54 L241.28,177.5 L243.39,174.29 L245.55,170.94 L247.75,167.51 L250,164.05 L252,161.06 L257.04,153.97 L262.09,147.29 L267.13,141.12 L272.17,135.34 L277.22,129.87 L282.26,124.74 L287.3,119.96 L292.35,115.46 L297.39,111.16 L302.43,106.87 L307.48,102.52 L312.52,98.29 L317.57,94.36 L322.61,90.9 L327.65,87.77 L332.7,84.87 L337.74,82.13 L342.78,79.45 L347.83,76.83 L352.87,74.34 L357.91,72.05 L362.96,70.03 L368,68.22 L373.04,66.54 L378.09,64.91 L383.13,63.3 L388.17,61.75 L393.22,60.24 L398.26,58.72 L403.3,57.11 L408.35,55.41 L413.39,53.73 L418.43,52.18 L423.48,50.82 L428.52,49.56 L433.57,48.37 L438.61,47.24 L443.65,46.15 L448.7,45.09 L453.74,44.05 L458.78,43.04 L463.83,42.06 L468.87,41.12 L473.91,40.2 L478.96,39.31 L484,38.44 L489.04,37.58 L494.09,36.76 L499.13,36.04 L504.17,35.4 L509.22,34.8 L514.26,34.26 L519.3,33.79 L524.35,33.37 L529.39,32.99 L534.43,32.65 L539.48,32.32 L544.52,32.03 L549.57,31.77 L554.61,31.54 L559.65,31.35 L564.7,31.19 L569.74,31.03 L574.78,30.88 L579.83,30.75 L584.87,30.63 L589.91,30.53 L594.96,30.46 L600,30.42 L600,30.4 L594.96,30.45 L589.91,30.52 L584.87,30.61 L579.83,30.73 L574.78,30.86 L569.74,31 L564.7,31.15 L559.65,31.31 L554.61,31.49 L549.57,31.71 L544.52,31.95 L539.48,32.22 L534.43,32.52 L529.39,32.84 L524.35,33.19 L519.3,33.55 L514.26,33.97 L509.22,34.46 L504.17,35.01 L499.13,35.61 L494.09,36.28 L489.04,37.04 L484,37.84 L478.96,38.67 L473.91,39.53 L468.87,40.43 L463.83,41.37 L458.78,42.34 L453.74,43.34 L448.7,44.37 L443.65,45.43 L438.61,46.52 L433.57,47.66 L428.52,48.85 L423.48,50.1 L418.43,51.43 L413.39,52.91 L408.35,54.49 L403.3,56.09 L398.26,57.61 L393.22,59.06 L388.17,60.49 L383.13,61.95 L378.09,63.49 L373.04,65.05 L368,66.67 L362.96,68.41 L357.91,70.31 L352.87,72.41 L347.83,74.69 L342.78,77.11 L337.74,79.65 L332.7,82.33 L327.65,85.2 L322.61,88.29 L317.57,91.69 L312.52,95.55 L307.48,99.7 L302.43,103.96 L297.39,108.16 L292.35,112.36 L287.3,116.72 L282.26,121.39 L277.22,126.43 L272.17,131.82 L267.13,137.5 L262.09,143.51 L257.04,149.93 L252,156.81 L250,159.76 L247.75,163.17 L245.55,166.56 L243.39,169.89 L241.28,173.08 L239.21,176.1 L237.19,179.01 L235.22,181.9 L233.3,184.85 L231.42,187.93 L229.59,191.19 L227.8,194.66 L226.06,198.23 L224.37,201.83 L222.72,205.4 L221.12,208.88 L219.56,212.22 L218.06,215.41 L216.59,218.59 L215.18,221.74 L213.81,224.97 L212.49,228.29 L211.21,231.81 L209.98,235.45 L208.8,239.1 L207.66,242.68 L206.57,246.09 L205.53,249.34 L204.53,252.49 L203.58,255.53 L202.67,258.47 L201.82,261.27 L201,264 L200.24,266.56 L199.52,269 L198.85,271.31 L198.22,273.53 L197.64,275.62 L197.11,277.59 L196.62,279.46 L196.18,281.19 L195.78,282.79 L195.44,284.19 L195.14,285.43 L194.88,286.53 L194.67,287.42 L194.51,288.1 L194.39,288.61 L194.32,288.91 L194.3,289 Z" fill="#8B0000" fill-opacity="0.17"/>
<path d="M194.3,250 L194.32,249.15 L194.39,246.24 L194.51,241.52 L194.67,235.93 L194.88,229.97 L195.14,223.71 L195.44,216.73 L195.78,209.05 L196.18,200.42 L196.62,191.53 L197.11,181.79 L197.64,169.8 L198.22,160 L198.85,153.29 L199.52,148.27 L200.24,144.1 L201,140.26 L201.82,136.64 L202.67,133.34 L203.58,130.28 L204.53,127.53 L205.53,124.74 L206.57,121.99 L207.66,119.7 L208.8,117.73 L209.98,115.45 L211.21,113.01 L212.49,110.92 L213.81,109.03 L215.18,107.21 L216.59,105.48 L218.06,103.8 L219.56,102.21 L221.12,100.76 L222.72,99.41 L224.37,98.14 L226.06,96.96 L227.8,95.9 L229.59,94.92 L231.42,93.94 L233.3,92.95 L235.22,91.97 L237.19,90.98 L239.21,89.93 L241.28,88.79 L243.39,87.6 L245.55,86.34 L247.75,85.04 L250,83.7 L252,82.5 L257.04,79.4 L262.09,76.26 L267.13,73.24 L272.17,70.25 L277.22,67.42 L282.26,64.91 L287.3,62.59 L292.35,60.43 L297.39,58.45 L302.43,56.65 L307.48,54.95 L312.52,53.36 L317.57,51.86 L322.61,50.44 L327.65,49.1 L332.7,47.82 L337.74,46.61 L342.78,45.45 L347.83,44.37 L352.87,43.39 L357.91,42.5 L362.96,41.67 L368,40.91 L373.04,40.2 L378.09,39.54 L383.13,38.93 L388.17,38.4 L393.22,37.89 L398.26,37.38 L403.3,36.83 L408.35,36.24 L413.39,35.65 L418.43,35.14 L423.48,34.71 L428.52,34.33 L433.57,33.97 L438.61,33.64 L443.65,33.34 L448.7,33.07 L453.74,32.82 L458.78,32.59 L463.83,32.39 L468.87,32.19 L473.91,32.01 L478.96,31.84 L484,31.67 L489.04,31.51 L494.09,31.36 L499.13,31.22 L504.17,31.1 L509.22,30.98 L514.26,30.87 L519.3,30.77 L524.35,30.68 L529.39,30.61 L534.43,30.54 L539.48,30.48 L544.52,30.42 L549.57,30.37 L554.61,30.33 L559.65,30.3 L564.7,30.28 L569.74,30.26 L574.78,30.24 L579.83,30.23 L584.87,30.22 L589.91,30.21 L594.96,30.2 L600,30.2 L600,30.16 L594.96,30.16 L589.91,30.16 L584.87,30.17 L579.83,30.18 L574.78,30.19 L569.74,30.21 L564.7,30.22 L559.65,30.24 L554.61,30.26 L549.57,30.3 L544.52,30.35 L539.48,30.4 L534.43,30.46 L529.39,30.52 L524.35,30.59 L519.3,30.68 L514.26,30.77 L509.22,30.87 L504.17,30.98 L499.13,31.09 L494.09,31.23 L489.04,31.38 L484,31.54 L478.96,31.71 L473.91,31.88 L468.87,32.06 L463.83,32.25 L458.78,32.46 L453.74,32.68 L448.7,32.92 L443.65,33.18 L438.61,33.46 L433.57,33.77 L428.52,34.11 L423.48,34.48 L418.43,34.88 L413.39,35.36 L408.35,35.9 L403.3,36.46 L398.26,36.97 L393.22,37.44 L388.17,37.91 L383.13,38.4 L378.09,38.94 L373.04,39.53 L368,40.16 L362.96,40.84 L357.91,41.59 L352.87,42.42 L347.83,43.34 L342.78,44.35 L337.74,45.44 L332.7,46.6 L327.65,47.81 L322.61,49.12 L317.57,50.52 L312.52,52 L307.48,53.57 L302.43,55.21 L297.39,56.93 L292.35,58.76 L287.3,60.75 L282.26,62.88 L277.22,65.22 L272.17,67.85 L267.13,70.64 L262.09,73.47 L257.04,76.41 L252,79.34 L250,80.49 L247.75,81.78 L245.55,83.04 L243.39,84.26 L241.28,85.44 L239.21,86.56 L237.19,87.61 L235.22,88.62 L233.3,89.62 L231.42,90.63 L229.59,91.63 L227.8,92.65 L226.06,93.72 L224.37,94.87 L222.72,96.1 L221.12,97.42 L219.56,98.84 L218.06,100.39 L216.59,102 L215.18,103.67 L213.81,105.47 L212.49,107.38 L211.21,109.49 L209.98,111.9 L208.8,114.22 L207.66,116.41 L206.57,118.94 L205.53,121.9 L204.53,124.98 L203.58,128.18 L202.67,131.63 L201.82,134.96 L201,138.41 L200.24,142.12 L199.52,146.25 L198.85,151.06 L198.22,157.43 L197.64,167.28 L197.11,179.23 L196.62,189.43 L196.18,198.52 L195.78,207.24 L195.44,215.02 L195.14,222.14 L194.88,228.55 L194.67,234.51 L194.51,240.06 L194.39,244.88 L194.32,247.93 L194.3,248.82 Z" fill="#8B0000" fill-opacity="0.17"/>
<path d="M194.3,289.31 L194.32,289.24 L194.39,288.99 L194.51,288.56 L194.67,287.99 L194.88,287.24 L195.14,286.32 L195.44,285.27 L195.78,284.08 L196.18,282.7 L196.62,281.19 L197.11,279.54 L197.64,277.79 L198.22,275.9 L198.85,273.87 L199.52,271.74 L200.24,269.47 L201,267.08 L201.82,264.49 L202.67,261.81 L203.58,258.95 L204.53,256 L205.53,252.96 L206.57,249.83 L207.66,246.54 L208.8,243.1 L209.98,239.6 L211.21,236.09 L212.49,232.68 L213.81,229.45 L215.18,226.29 L216.59,223.19 L218.06,220.06 L219.56,216.94 L221.12,213.71 L222.72,210.4 L224.37,207.03 L226.06,203.66 L227.8,200.33 L229.59,197.11 L231.42,194.05 L233.3,191.13 L235.22,188.3 L237.19,185.48 L239.21,182.58 L241.28,179.54 L243.39,176.32 L245.55,172.95 L247.75,169.52 L250,166.03 L252,163.02 L257.04,155.83 L262.09,149.03 L267.13,142.78 L272.17,136.97 L277.22,131.46 L282.26,126.28 L287.3,121.45 L292.35,116.9 L297.39,112.54 L302.43,108.21 L307.48,103.82 L312.52,99.55 L317.57,95.59 L322.61,92.1 L327.65,88.96 L332.7,86.04 L337.74,83.27 L342.78,80.53 L347.83,77.82 L352.87,75.23 L357.91,72.86 L362.96,70.78 L368,68.93 L373.04,67.22 L378.09,65.56 L383.13,63.91 L388.17,62.34 L393.22,60.79 L398.26,59.22 L403.3,57.58 L408.35,55.83 L413.39,54.1 L418.43,52.52 L423.48,51.15 L428.52,49.88 L433.57,48.69 L438.61,47.57 L443.65,46.48 L448.7,45.42 L453.74,44.37 L458.78,43.36 L463.83,42.38 L468.87,41.43 L473.91,40.51 L478.96,39.61 L484,38.71 L489.04,37.83 L494.09,36.99 L499.13,36.23 L504.17,35.57 L509.22,34.95 L514.26,34.39 L519.3,33.89 L524.35,33.46 L529.39,33.06 L534.43,32.7 L539.48,32.37 L544.52,32.07 L549.57,31.8 L554.61,31.57 L559.65,31.37 L564.7,31.21 L569.74,31.04 L574.78,30.89 L579.83,30.76 L584.87,30.64 L589.91,30.54 L594.96,30.47 L600,30.43 L600,30.4 L594.96,30.45 L589.91,30.52 L584.87,30.61 L579.83,30.73 L574.78,30.86 L569.74,31 L564.7,31.15 L559.65,31.31 L554.61,31.49 L549.57,31.71 L544.52,31.95 L539.48,32.22 L534.43,32.52 L529.39,32.84 L524.35,33.19 L519.3,33.55 L514.26,33.97 L509.22,34.46 L504.17,35.01 L499.13,35.61 L494.09,36.28 L489.04,37.04 L484,37.84 L478.96,38.67 L473.91,39.53 L468.87,40.43 L463.83,41.37 L458.78,42.34 L453.74,43.34 L448.7,44.37 L443.65,45.43 L438.61,46.52 L433.57,47.66 L428.52,48.85 L423.48,50.1 L418.43,51.43 L413.39,52.91 L408.35,54.49 L403.3,56.09 L398.26,57.61 L393.22,59.06 L388.17,60.49 L383.13,61.95 L378.09,63.49 L373.04,65.05 L368,66.67 L362.96,68.41 L357.91,70.31 L352.87,72.41 L347.83,74.69 L342.78,77.11 L337.74,79.65 L332.7,82.33 L327.65,85.2 L322.61,88.29 L317.57,91.69 L312.52,95.55 L307.48,99.7 L302.43,103.96 L297.39,108.16 L292.35,112.36 L287.3,116.72 L282.26,121.39 L277.22,126.43 L272.17,131.82 L267.13,137.5 L262.09,143.51 L257.04,149.93 L252,156.81 L250,159.76 L247.75,163.17 L245.55,166.56 L243.39,169.89 L241.28,173.08 L239.21,176.1 L237.19,179.01 L235.22,181.9 L233.3,184.85 L231.42,187.93 L229.59,191.19 L227.8,194.66 L226.06,198.23 L224.37,201.83 L222.72,205.4 L221.12,208.88 L219.56,212.22 L218.06,215.41 L216.59,218.59 L215.18,221.74 L213.81,224.97 L212.49,228.29 L211.21,231.81 L209.98,235.45 L208.8,239.1 L207.66,242.68 L206.57,246.09 L205.53,249.34 L204.53,252.49 L203.58,255.53 L202.67,258.47 L201.82,261.27 L201,264 L200.24,266.56 L199.52,269 L198.85,271.31 L198.22,273.53 L197.64,275.62 L197.11,277.59 L196.62,279.46 L196.18,281.19 L195.78,282.79 L195.44,284.19 L195.14,285.43 L194.88,286.53 L194.67,287.42 L194.51,288.1 L194.39,288.61 L194.32,288.91 L194.3,289 Z" fill="#8B0000" fill-opacity="0.17"/>
<path d="M194.3,250 L194.32,249.15 L194.39,246.24 L194.51,241.52 L194.67,235.93 L194.88,229.97 L195.14,223.71 L195.44,216.73 L195.78,209.05 L196.18,200.42 L196.62,191.53 L197.11,181.79 L197.64,169.8 L198.22,160 L198.85,153.29 L199.52,148.27 L200.24,144.1 L201,140.26 L201.82,136.64 L202.67,133.34 L203.58,130.28 L204.53,127.53 L205.53,124.74 L206.57,121.99 L207.66,119.7 L208.8,117.73 L209.98,115.45 L211.21,113.01 L212.49,110.92 L213.81,109.03 L215.18,107.21 L216.59,105.48 L218.06,103.8 L219.56,102.21 L221.12,100.76 L222.72,99.41 L224.37,98.14 L226.06,96.96 L227.8,95.9 L229.59,94.92 L231.42,93.94 L233.3,92.95 L235.22,91.97 L237.19,90.98 L239.21,89.93 L241.28,88.79 L243.39,87.6 L245.55,86.34 L247.75,85.04 L250,83.7 L252,82.5 L257.04,79.4 L262.09,76.26 L267.13,73.24 L272.17,70.25 L277.22,67.42 L282.26,64.91 L287.3,62.59 L292.35,60.43 L297.39,58.45 L302.43,56.65 L307.48,54.95 L312.52,53.36 L317.57,51.86 L322.61,50.44 L327.65,49.1 L332.7,47.82 L337.74,46.61 L342.78,45.45 L347.83,44.37 L352.87,43.39 L357.91,42.5 L362.96,41.67 L368,40.91 L373.04,40.2 L378.09,39.54 L383.13,38.93 L388.17,38.4 L393.22,37.89 L398.26,37.38 L403.3,36.83 L408.35,36.24 L413.39,35.65 L418.43,35.14 L423.48,34.71 L428.52,34.33 L433.57,33.97 L438.61,33.64 L443.65,33.34 L448.7,33.07 L453.74,32.82 L458.78,32.59 L463.83,32.39 L468.87,32.19 L473.91,32.01 L478.96,31.84 L484,31.67 L489.04,31.51 L494.09,31.36 L499.13,31.22 L504.17,31.1 L509.22,30.98 L514.26,30.87 L519.3,30.77 L524.35,30.68 L529.39,30.61 L534.43,30.54 L539.48,30.48 L544.52,30.42 L549.57,30.37 L554.61,30.33 L559.65,30.3 L564.7,30.28 L569.74,30.26 L574.78,30.24 L579.83,30.23 L584.87,30.22 L589.91,30.21 L594.96,30.2 L600,30.2 L600,30.14 L594.96,30.14 L589.91,30.14 L584.87,30.15 L579.83,30.16 L574.78,30.17 L569.74,30.18 L564.7,30.19 L559.65,30.21 L554.61,30.23 L549.57,30.27 L544.52,30.31 L539.48,30.37 L534.43,30.42 L529.39,30.48 L524.35,30.55 L519.3,30.63 L514.26,30.72 L509.22,30.82 L504.17,30.92 L499.13,31.04 L494.09,31.17 L489.04,31.32 L484,31.48 L478.96,31.65 L473.91,31.82 L468.87,32 L463.83,32.19 L458.78,32.39 L453.74,32.61 L448.7,32.85 L443.65,33.1 L438.61,33.38 L433.57,33.69 L428.52,34.01 L423.48,34.37 L418.43,34.76 L413.39,35.23 L408.35,35.75 L403.3,36.29 L398.26,36.78 L393.22,37.23 L388.17,37.68 L383.13,38.15 L378.09,38.67 L373.04,39.23 L368,39.82 L362.96,40.46 L357.91,41.18 L352.87,41.97 L347.83,42.86 L342.78,43.84 L337.74,44.9 L332.7,46.03 L327.65,47.22 L322.61,48.51 L317.57,49.9 L312.52,51.38 L307.48,52.93 L302.43,54.55 L297.39,56.22 L292.35,57.99 L287.3,59.9 L282.26,61.95 L277.22,64.2 L272.17,66.75 L267.13,69.45 L262.09,72.18 L257.04,75.03 L252,77.88 L250,79 L247.75,80.27 L245.55,81.51 L243.39,82.72 L241.28,83.89 L239.21,85 L237.19,86.06 L235.22,87.08 L233.3,88.08 L231.42,89.1 L229.59,90.12 L227.8,91.15 L226.06,92.23 L224.37,93.37 L222.72,94.57 L221.12,95.88 L219.56,97.29 L218.06,98.81 L216.59,100.39 L215.18,102.04 L213.81,103.82 L212.49,105.75 L211.21,107.87 L209.98,110.26 L208.8,112.6 L207.66,114.89 L206.57,117.54 L205.53,120.6 L204.53,123.81 L203.58,127.2 L202.67,130.84 L201.82,134.18 L201,137.56 L200.24,141.21 L199.52,145.31 L198.85,150.04 L198.22,156.24 L197.64,166.12 L197.11,178.04 L196.62,188.45 L196.18,197.64 L195.78,206.41 L195.44,214.24 L195.14,221.41 L194.88,227.9 L194.67,233.86 L194.51,239.39 L194.39,244.26 L194.32,247.36 L194.3,248.28 Z" fill="#8B0000" fill-opacity="0.17"/>
<path d="M194.3,289.42 L194.32,289.35 L194.39,289.12 L194.51,288.72 L194.67,288.2 L194.88,287.5 L195.14,286.65 L195.44,285.66 L195.78,284.55 L196.18,283.25 L196.62,281.82 L197.11,280.25 L197.64,278.58 L198.22,276.76 L198.85,274.81 L199.52,272.74 L200.24,270.53 L201,268.2 L201.82,265.66 L202.67,263.02 L203.58,260.19 L204.53,257.27 L205.53,254.27 L206.57,251.18 L207.66,247.94 L208.8,244.55 L209.98,241.11 L211.21,237.65 L212.49,234.28 L213.81,231.08 L215.18,227.94 L216.59,224.86 L218.06,221.75 L219.56,218.66 L221.12,215.47 L222.72,212.22 L224.37,208.93 L226.06,205.64 L227.8,202.39 L229.59,199.26 L231.42,196.28 L233.3,193.42 L235.22,190.63 L237.19,187.83 L239.21,184.94 L241.28,181.88 L243.39,178.65 L245.55,175.28 L247.75,171.82 L250,168.32 L252,165.27 L257.04,157.98 L262.09,151.04 L267.13,144.7 L272.17,138.83 L277.22,133.28 L282.26,128.06 L287.3,123.17 L292.35,118.55 L297.39,114.13 L302.43,109.76 L307.48,105.32 L312.52,101.01 L317.57,97 L322.61,93.48 L327.65,90.33 L332.7,87.39 L337.74,84.58 L342.78,81.77 L347.83,78.95 L352.87,76.25 L357.91,73.78 L362.96,71.64 L368,69.75 L373.04,68.01 L378.09,66.31 L383.13,64.63 L388.17,63.01 L393.22,61.42 L398.26,59.81 L403.3,58.12 L408.35,56.31 L413.39,54.54 L418.43,52.92 L423.48,51.53 L428.52,50.26 L433.57,49.07 L438.61,47.94 L443.65,46.86 L448.7,45.8 L453.74,44.75 L458.78,43.74 L463.83,42.75 L468.87,41.8 L473.91,40.86 L478.96,39.95 L484,39.03 L489.04,38.11 L494.09,37.24 L499.13,36.46 L504.17,35.78 L509.22,35.13 L514.26,34.54 L519.3,34.02 L524.35,33.55 L529.39,33.14 L534.43,32.77 L539.48,32.43 L544.52,32.11 L549.57,31.83 L554.61,31.59 L559.65,31.4 L564.7,31.23 L569.74,31.06 L574.78,30.91 L579.83,30.77 L584.87,30.65 L589.91,30.55 L594.96,30.48 L600,30.44 L600,30.4 L594.96,30.45 L589.91,30.52 L584.87,30.61 L579.83,30.73 L574.78,30.86 L569.74,31 L564.7,31.15 L559.65,31.31 L554.61,31.49 L549.57,31.71 L544.52,31.95 L539.48,32.22 L534.43,32.52 L529.39,32.84 L524.35,33.19 L519.3,33.55 L514.26,33.97 L509.22,34.46 L504.17,35.01 L499.13,35.61 L494.09,36.28 L489.04,37.04 L484,37.84 L478.96,38.67 L473.91,39.53 L468.87,40.43 L463.83,41.37 L458.78,42.34 L453.74,43.34 L448.7,44.37 L443.65,45.43 L438.61,46.52 L433.57,47.66 L428.52,48.85 L423.48,50.1 L418.43,51.43 L413.39,52.91 L408.35,54.49 L403.3,56.09 L398.26,57.61 L393.22,59.06 L388.17,60.49 L383.13,61.95 L378.09,63.49 L373.04,65.05 L368,66.67 L362.96,68.41 L357.91,70.31 L352.87,72.41 L347.83,74.69 L342.78,77.11 L337.74,79.65 L332.7,82.33 L327.65,85.2 L322.61,88.29 L317.57,91.69 L312.52,95.55 L307.48,99.7 L302.43,103.96 L297.39,108.16 L292.35,112.36 L287.3,116.72 L282.26,121.39 L277.22,126.43 L272.17,131.82 L267.13,137.5 L262.09,143.51 L257.04,149.93 L252,156.81 L250,159.76 L247.75,163.17 L245.55,166.56 L243.39,169.89 L241.28,173.08 L239.21,176.1 L237.19,179.01 L235.22,181.9 L233.3,184.85 L231.42,187.93 L229.59,191.19 L227.8,194.66 L226.06,198.23 L224.37,201.83 L222.72,205.4 L221.12,208.88 L219.56,212.22 L218.06,215.41 L216.59,218.59 L215.18,221.74 L213.81,224.97 L212.49,228.29 L211.21,231.81 L209.98,235.45 L208.8,239.1 L207.66,242.68 L206.57,246.09 L205.53,249.34 L204.53,252.49 L203.58,255.53 L202.67,258.47 L201.82,261.27 L201,264 L200.24,266.56 L199.52,269 L198.85,271.31 L198.22,273.53 L197.64,275.62 L197.11,277.59 L196.62,279.46 L196.18,281.19 L195.78,282.79 L195.44,284.19 L195.14,285.43 L194.88,286.53 L194.67,287.42 L194.51,288.1 L194.39,288.61 L194.32,288.91 L194.3,289 Z" fill="#8B0000" fill-opacity="0.17"/>
<path d="M194.3,250 L194.32,249.15 L194.39,246.24 L194.51,241.52 L194.67,235.93 L194.88,229.97 L195.14,223.71 L195.44,216.73 L195.78,209.05 L196.18,200.42 L196.62,191.53 L197.11,181.79 L197.64,169.8 L198.22,160 L198.85,153.29 L199.52,148.27 L200.24,144.1 L201,140.26 L201.82,136.64 L202.67,133.34 L203.58,130.28 L204.53,127.53 L205.53,124.74 L206.57,121.99 L207.66,119.7 L208.8,117.73 L209.98,115.45 L211.21,113.01 L212.49,110.92 L213.81,109.03 L215.18,107.21 L216.59,105.48 L218.06,103.8 L219.56,102.21 L221.12,100.76 L222.72,99.41 L224.37,98.14 L226.06,96.96 L227.8,95.9 L229.59,94.92 L231.42,93.94 L233.3,92.95 L235.22,91.97 L237.19,90.98 L239.21,89.93 L241.28,88.79 L243.39,87.6 L245.55,86.34 L247.75,85.04 L250,83.7 L252,82.5 L257.04,79.4 L262.09,76.26 L267.13,73.24 L272.17,70.25 L277.22,67.42 L282.26,64.91 L287.3,62.59 L292.35,60.43 L297.39,58.45 L302.43,56.65 L307.48,54.95 L312.52,53.36 L317.57,51.86 L322.61,50.44 L327.65,49.1 L332.7,47.82 L337.74,46.61 L342.78,45.45 L347.83,44.37 L352.87,43.39 L357.91,42.5 L362.96,41.67 L368,40.91 L373.04,40.2 L378.09,39.54 L383.13,38.93 L388.17,38.4 L393.22,37.89 L398.26,37.38 L403.3,36.83 L408.35,36.24 L413.39,35.65 L418.43,35.14 L423.48,34.71 L428.52,34.33 L433.57,33.97 L438.61,33.64 L443.65,33.34 L448.7,33.07 L453.74,32.82 L458.78,32.59 L463.83,32.39 L468.87,32.19 L473.91,32.01 L478.96,31.84 L484,31.67 L489.04,31.51 L494.09,31.36 L499.13,31.22 L504.17,31.1 L509.22,30.98 L514.26,30.87 L519.3,30.77 L524.35,30.68 L529.39,30.61 L534.43,30.54 L539.48,30.48 L544.52,30.42 L549.57,30.37 L554.61,30.33 L559.65,30.3 L564.7,30.28 L569.74,30.26 L574.78,30.24 L579.83,30.23 L584.87,30.22 L589.91,30.21 L594.96,30.2 L600,30.2 L600,30.12 L594.96,30.12 L589.91,30.12 L584.87,30.13 L579.83,30.13 L574.78,30.14 L569.74,30.15 L564.7,30.16 L559.65,30.17 L554.61,30.2 L549.57,30.23 L544.52,30.27 L539.48,30.33 L534.43,30.38 L529.39,30.44 L524.35,30.5 L519.3,30.58 L514.26,30.66 L509.22,30.76 L504.17,30.86 L499.13,30.97 L494.09,31.1 L489.04,31.25 L484,31.41 L478.96,31.58 L473.91,31.76 L468.87,31.93 L463.83,32.12 L458.78,32.32 L453.74,32.54 L448.7,32.77 L443.65,33.02 L438.61,33.29 L433.57,33.58 L428.52,33.9 L423.48,34.24 L418.43,34.62 L413.39,35.07 L408.35,35.58 L403.3,36.09 L398.26,36.56 L393.22,36.99 L388.17,37.42 L383.13,37.87 L378.09,38.36 L373.04,38.87 L368,39.42 L362.96,40.02 L357.91,40.7 L352.87,41.45 L347.83,42.31 L342.78,43.26 L337.74,44.29 L332.7,45.38 L327.65,46.53 L322.61,47.8 L317.57,49.18 L312.52,50.66 L307.48,52.2 L302.43,53.79 L297.39,55.41 L292.35,57.11 L287.3,58.92 L282.26,60.87 L277.22,63.03 L272.17,65.47 L267.13,68.07 L262.09,70.7 L257.04,73.44 L252,76.21 L250,77.3 L247.75,78.54 L245.55,79.76 L243.39,80.95 L241.28,82.1 L239.21,83.21 L237.19,84.27 L235.22,85.3 L233.3,86.32 L231.42,87.34 L229.59,88.38 L227.8,89.43 L226.06,90.51 L224.37,91.63 L222.72,92.81 L221.12,94.1 L219.56,95.5 L218.06,97 L216.59,98.55 L215.18,100.16 L213.81,101.93 L212.49,103.87 L211.21,106 L209.98,108.37 L208.8,110.74 L207.66,113.14 L206.57,115.92 L205.53,119.09 L204.53,122.46 L203.58,126.08 L202.67,129.93 L201.82,133.28 L201,136.57 L200.24,140.16 L199.52,144.24 L198.85,148.86 L198.22,154.88 L197.64,164.78 L197.11,176.68 L196.62,187.34 L196.18,196.63 L195.78,205.45 L195.44,213.33 L195.14,220.58 L194.88,227.15 L194.67,233.1 L194.51,238.62 L194.39,243.54 L194.32,246.71 L194.3,247.65 Z" fill="#8B0000" fill-opacity="0.17"/>
<path d="M194.3,289.55 L194.32,289.48 L194.39,289.27 L194.51,288.91 L194.67,288.43 L194.88,287.8 L195.14,287.01 L195.44,286.11 L195.78,285.08 L196.18,283.86 L196.62,282.53 L197.11,281.05 L197.64,279.46 L198.22,277.73 L198.85,275.85 L199.52,273.86 L200.24,271.72 L201,269.45 L201.82,266.98 L202.67,264.38 L203.58,261.58 L204.53,258.7 L205.53,255.75 L206.57,252.71 L207.66,249.51 L208.8,246.18 L209.98,242.8 L211.21,239.4 L212.49,236.08 L213.81,232.91 L215.18,229.8 L216.59,226.74 L218.06,223.65 L219.56,220.58 L221.12,217.44 L222.72,214.26 L224.37,211.05 L226.06,207.86 L227.8,204.71 L229.59,201.67 L231.42,198.78 L233.3,195.98 L235.22,193.24 L237.19,190.47 L239.21,187.59 L241.28,184.52 L243.39,181.28 L245.55,177.89 L247.75,174.41 L250,170.88 L252,167.8 L257.04,160.39 L262.09,153.29 L267.13,146.86 L272.17,140.93 L277.22,135.33 L282.26,130.06 L287.3,125.1 L292.35,120.4 L297.39,115.92 L302.43,111.49 L307.48,107 L312.52,102.64 L317.57,98.59 L322.61,95.04 L327.65,91.86 L332.7,88.91 L337.74,86.05 L342.78,83.17 L347.83,80.23 L352.87,77.4 L357.91,74.82 L362.96,72.61 L368,70.68 L373.04,68.89 L378.09,67.16 L383.13,65.43 L388.17,63.76 L393.22,62.12 L398.26,60.47 L403.3,58.72 L408.35,56.86 L413.39,55.03 L418.43,53.37 L423.48,51.96 L428.52,50.68 L433.57,49.49 L438.61,48.37 L443.65,47.29 L448.7,46.23 L453.74,45.18 L458.78,44.16 L463.83,43.17 L468.87,42.21 L473.91,41.26 L478.96,40.33 L484,39.39 L489.04,38.44 L494.09,37.53 L499.13,36.72 L504.17,36.01 L509.22,35.33 L514.26,34.71 L519.3,34.16 L524.35,33.67 L529.39,33.23 L534.43,32.85 L539.48,32.49 L544.52,32.16 L549.57,31.87 L554.61,31.62 L559.65,31.42 L564.7,31.25 L569.74,31.08 L574.78,30.92 L579.83,30.78 L584.87,30.66 L589.91,30.56 L594.96,30.49 L600,30.45 L600,30.4 L594.96,30.45 L589.91,30.52 L584.87,30.61 L579.83,30.73 L574.78,30.86 L569.74,31 L564.7,31.15 L559.65,31.31 L554.61,31.49 L549.57,31.71 L544.52,31.95 L539.48,32.22 L534.43,32.52 L529.39,32.84 L524.35,33.19 L519.3,33.55 L514.26,33.97 L509.22,34.46 L504.17,35.01 L499.13,35.61 L494.09,36.28 L489.04,37.04 L484,37.84 L478.96,38.67 L473.91,39.53 L468.87,40.43 L463.83,41.37 L458.78,42.34 L453.74,43.34 L448.7,44.37 L443.65,45.43 L438.61,46.52 L433.57,47.66 L428.52,48.85 L423.48,50.1 L418.43,51.43 L413.39,52.91 L408.35,54.49 L403.3,56.09 L398.26,57.61 L393.22,59.06 L388.17,60.49 L383.13,61.95 L378.09,63.49 L373.04,65.05 L368,66.67 L362.96,68.41 L357.91,70.31 L352.87,72.41 L347.83,74.69 L342.78,77.11 L337.74,79.65 L332.7,82.33 L327.65,85.2 L322.61,88.29 L317.57,91.69 L312.52,95.55 L307.48,99.7 L302.43,103.96 L297.39,108.16 L292.35,112.36 L287.3,116.72 L282.26,121.39 L277.22,126.43 L272.17,131.82 L267.13,137.5 L262.09,143.51 L257.04,149.93 L252,156.81 L250,159.76 L247.75,163.17 L245.55,166.56 L243.39,169.89 L241.28,173.08 L239.21,176.1 L237.19,179.01 L235.22,181.9 L233.3,184.85 L231.42,187.93 L229.59,191.19 L227.8,194.66 L226.06,198.23 L224.37,201.83 L222.72,205.4 L221.12,208.88 L219.56,212.22 L218.06,215.41 L216.59,218.59 L215.18,221.74 L213.81,224.97 L212.49,228.29 L211.21,231.81 L209.98,235.45 L208.8,239.1 L207.66,242.68 L206.57,246.09 L205.53,249.34 L204.53,252.49 L203.58,255.53 L202.67,258.47 L201.82,261.27 L201,264 L200.24,266.56 L199.52,269 L198.85,271.31 L198.22,273.53 L197.64,275.62 L197.11,277.59 L196.62,279.46 L196.18,281.19 L195.78,282.79 L195.44,284.19 L195.14,285.43 L194.88,286.53 L194.67,287.42 L194.51,288.1 L194.39,288.61 L194.32,288.91 L194.3,289 Z" fill="#8B0000" fill-opacity="0.17"/>
<path d="M194.3,250 L194.32,249.15 L194.39,246.24 L194.51,241.52 L194.67,235.93 L194.88,229.97 L195.14,223.71 L195.44,216.73 L195.78,209.05 L196.18,200.42 L196.62,191.53 L197.11,181.79 L197.64,169.8 L198.22,160 L198.85,153.29 L199.52,148.27 L200.24,144.1 L201,140.26 L201.82,136.64 L202.67,133.34 L203.58,130.28 L204.53,127.53 L205.53,124.74 L206.57,121.99 L207.66,119.7 L208.8,117.73 L209.98,115.45 L211.21,113.01 L212.49,110.92 L213.81,109.03 L215.18,107.21 L216.59,105.48 L218.06,103.8 L219.56,102.21 L221.12,100.76 L222.72,99.41 L224.37,98.14 L226.06,96.96 L227.8,95.9 L229.59,94.92 L231.42,93.94 L233.3,92.95 L235.22,91.97 L237.19,90.98 L239.21,89.93 L241.28,88.79 L243.39,87.6 L245.55,86.34 L247.75,85.04 L250,83.7 L252,82.5 L257.04,79.4 L262.09,76.26 L267.13,73.24 L272.17,70.25 L277.22,67.42 L282.26,64.91 L287.3,62.59 L292.35,60.43 L297.39,58.45 L302.43,56.65 L307.48,54.95 L312.52,53.36 L317.57,51.86 L322.61,50.44 L327.65,49.1 L332.7,47.82 L337.74,46.61 L342.78,45.45 L347.83,44.37 L352.87,43.39 L357.91,42.5 L362.96,41.67 L368,40.91 L373.04,40.2 L378.09,39.54 L383.13,38.93 L388.17,38.4 L393.22,37.89 L398.26,37.38 L403.3,36.83 L408.35,36.24 L413.39,35.65 L418.43,35.14 L423.48,34.71 L428.52,34.33 L433.57,33.97 L438.61,33.64 L443.65,33.34 L448.7,33.07 L453.74,32.82 L458.78,32.59 L463.83,32.39 L468.87,32.19 L473.91,32.01 L478.96,31.84 L484,31.67 L489.04,31.51 L494.09,31.36 L499.13,31.22 L504.17,31.1 L509.22,30.98 L514.26,30.87 L519.3,30.77 L524.35,30.68 L529.39,30.61 L534.43,30.54 L539.48,30.48 L544.52,30.42 L549.57,30.37 L554.61,30.33 L559.65,30.3 L564.7,30.28 L569.74,30.26 L574.78,30.24 L579.83,30.23 L584.87,30.22 L589.91,30.21 L594.96,30.2 L600,30.2 L600,30.09 L594.96,30.09 L589.91,30.09 L584.87,30.1 L579.83,30.1 L574.78,30.11 L569.74,30.12 L564.7,30.13 L559.65,30.14 L554.61,30.16 L549.57,30.19 L544.52,30.23 L539.48,30.28 L534.43,30.33 L529.39,30.39 L524.35,30.45 L519.3,30.52 L514.26,30.6 L509.22,30.69 L504.17,30.79 L499.13,30.89 L494.09,31.02 L489.04,31.17 L484,31.34 L478.96,31.51 L473.91,31.68 L468.87,31.86 L463.83,32.04 L458.78,32.24 L453.74,32.45 L448.7,32.68 L443.65,32.92 L438.61,33.19 L433.57,33.47 L428.52,33.77 L423.48,34.1 L418.43,34.46 L413.39,34.9 L408.35,35.38 L403.3,35.86 L398.26,36.31 L393.22,36.72 L388.17,37.13 L383.13,37.55 L378.09,38 L373.04,38.48 L368,38.98 L362.96,39.53 L357.91,40.16 L352.87,40.87 L347.83,41.69 L342.78,42.6 L337.74,43.59 L332.7,44.64 L327.65,45.76 L322.61,47.01 L317.57,48.38 L312.52,49.85 L307.48,51.37 L302.43,52.93 L297.39,54.5 L292.35,56.11 L287.3,57.82 L282.26,59.66 L277.22,61.71 L272.17,64.04 L267.13,66.52 L262.09,69.03 L257.04,71.66 L252,74.32 L250,75.38 L247.75,76.59 L245.55,77.79 L243.39,78.96 L241.28,80.1 L239.21,81.2 L237.19,82.27 L235.22,83.3 L233.3,84.33 L231.42,85.37 L229.59,86.42 L227.8,87.49 L226.06,88.58 L224.37,89.69 L222.72,90.84 L221.12,92.1 L219.56,93.5 L218.06,94.97 L216.59,96.47 L215.18,98.05 L213.81,99.8 L212.49,101.76 L211.21,103.9 L209.98,106.25 L208.8,108.65 L207.66,111.18 L206.57,114.1 L205.53,117.4 L204.53,120.95 L203.58,124.82 L202.67,128.91 L201.82,132.27 L201,135.47 L200.24,138.99 L199.52,143.03 L198.85,147.53 L198.22,153.34 L197.64,163.27 L197.11,175.14 L196.62,186.08 L196.18,195.49 L195.78,204.37 L195.44,212.32 L195.14,219.64 L194.88,226.3 L194.67,232.25 L194.51,237.76 L194.39,242.73 L194.32,245.98 L194.3,246.95 Z" fill="#8B0000" fill-opacity="0.17"/>
<path d="M194.3,289.68 L194.32,289.63 L194.39,289.44 L194.51,289.12 L194.67,288.69 L194.88,288.12 L195.14,287.41 L195.44,286.6 L195.78,285.66 L196.18,284.55 L196.62,283.31 L197.11,281.94 L197.64,280.44 L198.22,278.8 L198.85,277.01 L199.52,275.1 L200.24,273.03 L201,270.84 L201.82,268.43 L202.67,265.88 L203.58,263.13 L204.53,260.28 L205.53,257.38 L206.57,254.39 L207.66,251.25 L208.8,247.99 L209.98,244.67 L211.21,241.34 L212.49,238.06 L213.81,234.93 L215.18,231.86 L216.59,228.81 L218.06,225.75 L219.56,222.71 L221.12,219.62 L222.72,216.52 L224.37,213.4 L226.06,210.31 L227.8,207.27 L229.59,204.34 L231.42,201.54 L233.3,198.82 L235.22,196.13 L237.19,193.39 L239.21,190.51 L241.28,187.44 L243.39,184.18 L245.55,180.78 L247.75,177.28 L250,173.72 L252,170.6 L257.04,163.06 L262.09,155.79 L267.13,149.25 L272.17,143.26 L277.22,137.6 L282.26,132.26 L287.3,127.24 L292.35,122.46 L297.39,117.9 L302.43,113.41 L307.48,108.87 L312.52,104.45 L317.57,100.35 L322.61,96.76 L327.65,93.56 L332.7,90.58 L337.74,87.68 L342.78,84.71 L347.83,81.64 L352.87,78.67 L357.91,75.97 L362.96,73.69 L368,71.7 L373.04,69.87 L378.09,68.1 L383.13,66.31 L388.17,64.6 L393.22,62.9 L398.26,61.19 L403.3,59.39 L408.35,57.46 L413.39,55.57 L418.43,53.86 L423.48,52.43 L428.52,51.15 L433.57,49.96 L438.61,48.84 L443.65,47.77 L448.7,46.7 L453.74,45.64 L458.78,44.62 L463.83,43.63 L468.87,42.66 L473.91,41.7 L478.96,40.75 L484,39.78 L489.04,38.8 L494.09,37.85 L499.13,37 L504.17,36.26 L509.22,35.55 L514.26,34.9 L519.3,34.31 L524.35,33.79 L529.39,33.33 L534.43,32.93 L539.48,32.56 L544.52,32.22 L549.57,31.92 L554.61,31.66 L559.65,31.45 L564.7,31.27 L569.74,31.1 L574.78,30.94 L579.83,30.79 L584.87,30.67 L589.91,30.57 L594.96,30.5 L600,30.47 L600,30.4 L594.96,30.45 L589.91,30.52 L584.87,30.61 L579.83,30.73 L574.78,30.86 L569.74,31 L564.7,31.15 L559.65,31.31 L554.61,31.49 L549.57,31.71 L544.52,31.95 L539.48,32.22 L534.43,32.52 L529.39,32.84 L524.35,33.19 L519.3,33.55 L514.26,33.97 L509.22,34.46 L504.17,35.01 L499.13,35.61 L494.09,36.28 L489.04,37.04 L484,37.84 L478.96,38.67 L473.91,39.53 L468.87,40.43 L463.83,41.37 L458.78,42.34 L453.74,43.34 L448.7,44.37 L443.65,45.43 L438.61,46.52 L433.57,47.66 L428.52,48.85 L423.48,50.1 L418.43,51.43 L413.39,52.91 L408.35,54.49 L403.3,56.09 L398.26,57.61 L393.22,59.06 L388.17,60.49 L383.13,61.95 L378.09,63.49 L373.04,65.05 L368,66.67 L362.96,68.41 L357.91,70.31 L352.87,72.41 L347.83,74.69 L342.78,77.11 L337.74,79.65 L332.7,82.33 L327.65,85.2 L322.61,88.29 L317.57,91.69 L312.52,95.55 L307.48,99.7 L302.43,103.96 L297.39,108.16 L292.35,112.36 L287.3,116.72 L282.26,121.39 L277.22,126.43 L272.17,131.82 L267.13,137.5 L262.09,143.51 L257.04,149.93 L252,156.81 L250,159.76 L247.75,163.17 L245.55,166.56 L243.39,169.89 L241.28,173.08 L239.21,176.1 L237.19,179.01 L235.22,181.9 L233.3,184.85 L231.42,187.93 L229.59,191.19 L227.8,194.66 L226.06,198.23 L224.37,201.83 L222.72,205.4 L221.12,208.88 L219.56,212.22 L218.06,215.41 L216.59,218.59 L215.18,221.74 L213.81,224.97 L212.49,228.29 L211.21,231.81 L209.98,235.45 L208.8,239.1 L207.66,242.68 L206.57,246.09 L205.53,249.34 L204.53,252.49 L203.58,255.53 L202.67,258.47 L201.82,261.27 L201,264 L200.24,266.56 L199.52,269 L198.85,271.31 L198.22,273.53 L197.64,275.62 L197.11,277.59 L196.62,279.46 L196.18,281.19 L195.78,282.79 L195.44,284.19 L195.14,285.43 L194.88,286.53 L194.67,287.42 L194.51,288.1 L194.39,288.61 L194.32,288.91 L194.3,289 Z" fill="#8B0000" fill-opacity="0.17"/>
<path d="M194.3,250 L194.32,249.15 L194.39,246.24 L194.51,241.52 L194.67,235.93 L194.88,229.97 L195.14,223.71 L195.44,216.73 L195.78,209.05 L196.18,200.42 L196.62,191.53 L197.11,181.79 L197.64,169.8 L198.22,160 L198.85,153.29 L199.52,148.27 L200.24,144.1 L201,140.26 L201.82,136.64 L202.67,133.34 L203.58,130.28 L204.53,127.53 L205.53,124.74 L206.57,121.99 L207.66,119.7 L208.8,117.73 L209.98,115.45 L211.21,113.01 L212.49,110.92 L213.81,109.03 L215.18,107.21 L216.59,105.48 L218.06,103.8 L219.56,102.21 L221.12,100.76 L222.72,99.41 L224.37,98.14 L226.06,96.96 L227.8,95.9 L229.59,94.92 L231.42,93.94 L233.3,92.95 L235.22,91.97 L237.19,90.98 L239.21,89.93 L241.28,88.79 L243.39,87.6 L245.55,86.34 L247.75,85.04 L250,83.7 L252,82.5 L257.04,79.4 L262.09,76.26 L267.13,73.24 L272.17,70.25 L277.22,67.42 L282.26,64.91 L287.3,62.59 L292.35,60.43 L297.39,58.45 L302.43,56.65 L307.48,54.95 L312.52,53.36 L317.57,51.86 L322.61,50.44 L327.65,49.1 L332.7,47.82 L337.74,46.61 L342.78,45.45 L347.83,44.37 L352.87,43.39 L357.91,42.5 L362.96,41.67 L368,40.91 L373.04,40.2 L378.09,39.54 L383.13,38.93 L388.17,38.4 L393.22,37.89 L398.26,37.38 L403.3,36.83 L408.35,36.24 L413.39,35.65 L418.43,35.14 L423.48,34.71 L428.52,34.33 L433.57,33.97 L438.61,33.64 L443.65,33.34 L448.7,33.07 L453.74,32.82 L458.78,32.59 L463.83,32.39 L468.87,32.19 L473.91,32.01 L478.96,31.84 L484,31.67 L489.04,31.51 L494.09,31.36 L499.13,31.22 L504.17,31.1 L509.22,30.98 L514.26,30.87 L519.3,30.77 L524.35,30.68 L529.39,30.61 L534.43,30.54 L539.48,30.48 L544.52,30.42 L549.57,30.37 L554.61,30.33 L559.65,30.3 L564.7,30.28 L569.74,30.26 L574.78,30.24 L579.83,30.23 L584.87,30.22 L589.91,30.21 L594.96,30.2 L600,30.2 L600,30.06 L594.96,30.06 L589.91,30.07 L584.87,30.07 L579.83,30.07 L574.78,30.08 L569.74,30.08 L564.7,30.09 L559.65,30.1 L554.61,30.11 L549.57,30.14 L544.52,30.18 L539.48,30.23 L534.43,30.28 L529.39,30.33 L524.35,30.39 L519.3,30.46 L514.26,30.53 L509.22,30.61 L504.17,30.71 L499.13,30.81 L494.09,30.94 L489.04,31.09 L484,31.26 L478.96,31.42 L473.91,31.59 L468.87,31.77 L463.83,31.96 L458.78,32.15 L453.74,32.36 L448.7,32.58 L443.65,32.82 L438.61,33.07 L433.57,33.34 L428.52,33.63 L423.48,33.95 L418.43,34.29 L413.39,34.7 L408.35,35.16 L403.3,35.62 L398.26,36.04 L393.22,36.43 L388.17,36.81 L383.13,37.2 L378.09,37.61 L373.04,38.04 L368,38.48 L362.96,38.98 L357.91,39.56 L352.87,40.23 L347.83,41.01 L342.78,41.88 L337.74,42.82 L332.7,43.83 L327.65,44.91 L322.61,46.14 L317.57,47.5 L312.52,48.95 L307.48,50.46 L302.43,51.98 L297.39,53.49 L292.35,55.01 L287.3,56.6 L282.26,58.33 L277.22,60.26 L272.17,62.46 L267.13,64.81 L262.09,67.19 L257.04,69.69 L252,72.24 L250,73.26 L247.75,74.44 L245.55,75.61 L243.39,76.76 L241.28,77.88 L239.21,78.98 L237.19,80.05 L235.22,81.09 L233.3,82.13 L231.42,83.19 L229.59,84.26 L227.8,85.35 L226.06,86.45 L224.37,87.53 L222.72,88.65 L221.12,89.9 L219.56,91.28 L218.06,92.72 L216.59,94.18 L215.18,95.71 L213.81,97.45 L212.49,99.42 L211.21,101.58 L209.98,103.9 L208.8,106.34 L207.66,109 L206.57,112.09 L205.53,115.53 L204.53,119.27 L203.58,123.43 L202.67,127.78 L201.82,131.16 L201,134.25 L200.24,137.68 L199.52,141.7 L198.85,146.06 L198.22,151.64 L197.64,161.61 L197.11,173.45 L196.62,184.69 L196.18,194.24 L195.78,203.18 L195.44,211.19 L195.14,218.6 L194.88,225.37 L194.67,231.32 L194.51,236.8 L194.39,241.83 L194.32,245.17 L194.3,246.17 Z" fill="#8B0000" fill-opacity="0.17"/>
<path d="M194.3,289.84 L194.32,289.79 L194.39,289.63 L194.51,289.34 L194.67,288.97 L194.88,288.47 L195.14,287.85 L195.44,287.13 L195.78,286.3 L196.18,285.29 L196.62,284.17 L197.11,282.9 L197.64,281.51 L198.22,279.97 L198.85,278.27 L199.52,276.45 L200.24,274.47 L201,272.36 L201.82,270.02 L202.67,267.52 L203.58,264.81 L204.53,262.01 L205.53,259.16 L206.57,256.23 L207.66,253.15 L208.8,249.96 L209.98,246.72 L211.21,243.45 L212.49,240.23 L213.81,237.14 L215.18,234.1 L216.59,231.08 L218.06,228.04 L219.56,225.04 L221.12,222.01 L222.72,218.98 L224.37,215.97 L226.06,212.99 L227.8,210.07 L229.59,207.26 L231.42,204.56 L233.3,201.92 L235.22,199.28 L237.19,196.57 L239.21,193.71 L241.28,190.62 L243.39,187.35 L245.55,183.93 L247.75,180.41 L250,176.81 L252,173.66 L257.04,165.97 L262.09,158.51 L267.13,151.85 L272.17,145.79 L277.22,140.08 L282.26,134.68 L287.3,129.57 L292.35,124.69 L297.39,120.05 L302.43,115.51 L307.48,110.9 L312.52,106.42 L317.57,102.27 L322.61,98.63 L327.65,95.41 L332.7,92.41 L337.74,89.46 L342.78,86.4 L347.83,83.18 L352.87,80.05 L357.91,77.22 L362.96,74.86 L368,72.81 L373.04,70.94 L378.09,69.12 L383.13,67.28 L388.17,65.51 L393.22,63.76 L398.26,61.99 L403.3,60.12 L408.35,58.12 L413.39,56.16 L418.43,54.4 L423.48,52.95 L428.52,51.66 L433.57,50.47 L438.61,49.36 L443.65,48.28 L448.7,47.22 L453.74,46.16 L458.78,45.13 L463.83,44.13 L468.87,43.15 L473.91,42.18 L478.96,41.21 L484,40.21 L489.04,39.19 L494.09,38.2 L499.13,37.31 L504.17,36.53 L509.22,35.79 L514.26,35.11 L519.3,34.48 L524.35,33.92 L529.39,33.44 L534.43,33.02 L539.48,32.63 L544.52,32.28 L549.57,31.96 L554.61,31.69 L559.65,31.48 L564.7,31.3 L569.74,31.12 L574.78,30.96 L579.83,30.81 L584.87,30.68 L589.91,30.58 L594.96,30.51 L600,30.48 L600,30.4 L594.96,30.45 L589.91,30.52 L584.87,30.61 L579.83,30.73 L574.78,30.86 L569.74,31 L564.7,31.15 L559.65,31.31 L554.61,31.49 L549.57,31.71 L544.52,31.95 L539.48,32.22 L534.43,32.52 L529.39,32.84 L524.35,33.19 L519.3,33.55 L514.26,33.97 L509.22,34.46 L504.17,35.01 L499.13,35.61 L494.09,36.28 L489.04,37.04 L484,37.84 L478.96,38.67 L473.91,39.53 L468.87,40.43 L463.83,41.37 L458.78,42.34 L453.74,43.34 L448.7,44.37 L443.65,45.43 L438.61,46.52 L433.57,47.66 L428.52,48.85 L423.48,50.1 L418.43,51.43 L413.39,52.91 L408.35,54.49 L403.3,56.09 L398.26,57.61 L393.22,59.06 L388.17,60.49 L383.13,61.95 L378.09,63.49 L373.04,65.05 L368,66.67 L362.96,68.41 L357.91,70.31 L352.87,72.41 L347.83,74.69 L342.78,77.11 L337.74,79.65 L332.7,82.33 L327.65,85.2 L322.61,88.29 L317.57,91.69 L312.52,95.55 L307.48,99.7 L302.43,103.96 L297.39,108.16 L292.35,112.36 L287.3,116.72 L282.26,121.39 L277.22,126.43 L272.17,131.82 L267.13,137.5 L262.09,143.51 L257.04,149.93 L252,156.81 L250,159.76 L247.75,163.17 L245.55,166.56 L243.39,169.89 L241.28,173.08 L239.21,176.1 L237.19,179.01 L235.22,181.9 L233.3,184.85 L231.42,187.93 L229.59,191.19 L227.8,194.66 L226.06,198.23 L224.37,201.83 L222.72,205.4 L221.12,208.88 L219.56,212.22 L218.06,215.41 L216.59,218.59 L215.18,221.74 L213.81,224.97 L212.49,228.29 L211.21,231.81 L209.98,235.45 L208.8,239.1 L207.66,242.68 L206.57,246.09 L205.53,249.34 L204.53,252.49 L203.58,255.53 L202.67,258.47 L201.82,261.27 L201,264 L200.24,266.56 L199.52,269 L198.85,271.31 L198.22,273.53 L197.64,275.62 L197.11,277.59 L196.62,279.46 L196.18,281.19 L195.78,282.79 L195.44,284.19 L195.14,285.43 L194.88,286.53 L194.67,287.42 L194.51,288.1 L194.39,288.61 L194.32,288.91 L194.3,289 Z" fill="#8B0000" fill-opacity="0.17"/>
<path d="M194.3,250 L194.32,249.15 L194.39,246.24 L194.51,241.52 L194.67,235.93 L194.88,229.97 L195.14,223.71 L195.44,216.73 L195.78,209.05 L196.18,200.42 L196.62,191.53 L197.11,181.79 L197.64,169.8 L198.22,160 L198.85,153.29 L199.52,148.27 L200.24,144.1 L201,140.26 L201.82,136.64 L202.67,133.34 L203.58,130.28 L204.53,127.53 L205.53,124.74 L206.57,121.99 L207.66,119.7 L208.8,117.73 L209.98,115.45 L211.21,113.01 L212.49,110.92 L213.81,109.03 L215.18,107.21 L216.59,105.48 L218.06,103.8 L219.56,102.21 L221.12,100.76 L222.72,99.41 L224.37,98.14 L226.06,96.96 L227.8,95.9 L229.59,94.92 L231.42,93.94 L233.3,92.95 L235.22,91.97 L237.19,90.98 L239.21,89.93 L241.28,88.79 L243.39,87.6 L245.55,86.34 L247.75,85.04 L250,83.7 L252,82.5 L257.04,79.4 L262.09,76.26 L267.13,73.24 L272.17,70.25 L277.22,67.42 L282.26,64.91 L287.3,62.59 L292.35,60.43 L297.39,58.45 L302.43,56.65 L307.48,54.95 L312.52,53.36 L317.57,51.86 L322.61,50.44 L327.65,49.1 L332.7,47.82 L337.74,46.61 L342.78,45.45 L347.83,44.37 L352.87,43.39 L357.91,42.5 L362.96,41.67 L368,40.91 L373.04,40.2 L378.09,39.54 L383.13,38.93 L388.17,38.4 L393.22,37.89 L398.26,37.38 L403.3,36.83 L408.35,36.24 L413.39,35.65 L418.43,35.14 L423.48,34.71 L428.52,34.33 L433.57,33.97 L438.61,33.64 L443.65,33.34 L448.7,33.07 L453.74,32.82 L458.78,32.59 L463.83,32.39 L468.87,32.19 L473.91,32.01 L478.96,31.84 L484,31.67 L489.04,31.51 L494.09,31.36 L499.13,31.22 L504.17,31.1 L509.22,30.98 L514.26,30.87 L519.3,30.77 L524.35,30.68 L529.39,30.61 L534.43,30.54 L539.48,30.48 L544.52,30.42 L549.57,30.37 L554.61,30.33 L559.65,30.3 L564.7,30.28 L569.74,30.26 L574.78,30.24 L579.83,30.23 L584.87,30.22 L589.91,30.21 L594.96,30.2 L600,30.2 L600,30.03 L594.96,30.03 L589.91,30.03 L584.87,30.04 L579.83,30.04 L574.78,30.04 L569.74,30.04 L564.7,30.05 L559.65,30.05 L554.61,30.06 L549.57,30.09 L544.52,30.13 L539.48,30.17 L534.43,30.22 L529.39,30.27 L524.35,30.32 L519.3,30.39 L514.26,30.45 L509.22,30.53 L504.17,30.62 L499.13,30.72 L494.09,30.84 L489.04,31 L484,31.16 L478.96,31.33 L473.91,31.5 L468.87,31.68 L463.83,31.86 L458.78,32.05 L453.74,32.26 L448.7,32.47 L443.65,32.7 L438.61,32.94 L433.57,33.2 L428.52,33.48 L423.48,33.78 L418.43,34.1 L413.39,34.49 L408.35,34.92 L403.3,35.35 L398.26,35.74 L393.22,36.1 L388.17,36.45 L383.13,36.81 L378.09,37.19 L373.04,37.56 L368,37.95 L362.96,38.39 L357.91,38.91 L352.87,39.54 L347.83,40.26 L342.78,41.09 L337.74,41.98 L332.7,42.95 L327.65,43.98 L322.61,45.18 L317.57,46.53 L312.52,47.97 L307.48,49.46 L302.43,50.95 L297.39,52.39 L292.35,53.8 L287.3,55.28 L282.26,56.87 L277.22,58.67 L272.17,60.73 L267.13,62.94 L262.09,65.19 L257.04,67.53 L252,69.96 L250,70.95 L247.75,72.09 L245.55,73.23 L243.39,74.36 L241.28,75.47 L239.21,76.55 L237.19,77.62 L235.22,78.68 L233.3,79.74 L231.42,80.81 L229.59,81.89 L227.8,83.01 L226.06,84.12 L224.37,85.18 L222.72,86.27 L221.12,87.49 L219.56,88.85 L218.06,90.26 L216.59,91.67 L215.18,93.16 L213.81,94.88 L212.49,96.87 L211.21,99.04 L209.98,101.34 L208.8,103.81 L207.66,106.63 L206.57,109.9 L205.53,113.48 L204.53,117.44 L203.58,121.92 L202.67,126.55 L201.82,129.94 L201,132.92 L200.24,136.26 L199.52,140.24 L198.85,144.46 L198.22,149.79 L197.64,159.8 L197.11,171.6 L196.62,183.17 L196.18,192.87 L195.78,201.88 L195.44,209.96 L195.14,217.46 L194.88,224.35 L194.67,230.29 L194.51,235.75 L194.39,240.85 L194.32,244.29 L194.3,245.32 Z" fill="#8B0000" fill-opacity="0.17"/>
<path d="M194.3,290 L194.32,289.96 L194.39,289.82 L194.51,289.59 L194.67,289.27 L194.88,288.86 L195.14,288.33 L195.44,287.71 L195.78,286.98 L196.18,286.1 L196.62,285.09 L197.11,283.94 L197.64,282.67 L198.22,281.23 L198.85,279.64 L199.52,277.91 L200.24,276.02 L201,274 L201.82,271.74 L202.67,269.3 L203.58,266.63 L204.53,263.88 L205.53,261.09 L206.57,258.22 L207.66,255.21 L208.8,252.09 L209.98,248.93 L211.21,245.74 L212.49,242.58 L213.81,239.53 L215.18,236.52 L216.59,233.53 L218.06,230.52 L219.56,227.55 L221.12,224.58 L222.72,221.65 L224.37,218.74 L226.06,215.89 L227.8,213.09 L229.59,210.41 L231.42,207.83 L233.3,205.27 L235.22,202.69 L237.19,200.02 L239.21,197.16 L241.28,194.06 L243.39,190.78 L245.55,187.34 L247.75,183.79 L250,180.16 L252,176.97 L257.04,169.12 L262.09,161.45 L267.13,154.67 L272.17,148.53 L277.22,142.75 L282.26,137.28 L287.3,132.09 L292.35,127.11 L297.39,122.39 L302.43,117.77 L307.48,113.1 L312.52,108.56 L317.57,104.34 L322.61,100.66 L327.65,97.41 L332.7,94.39 L337.74,91.39 L342.78,88.22 L347.83,84.85 L352.87,81.55 L357.91,78.58 L362.96,76.12 L368,74.01 L373.04,72.09 L378.09,70.22 L383.13,68.32 L388.17,66.49 L393.22,64.68 L398.26,62.85 L403.3,60.91 L408.35,58.83 L413.39,56.79 L418.43,54.99 L423.48,53.51 L428.52,52.21 L433.57,51.02 L438.61,49.91 L443.65,48.85 L448.7,47.78 L453.74,46.71 L458.78,45.68 L463.83,44.67 L468.87,43.69 L473.91,42.7 L478.96,41.71 L484,40.68 L489.04,39.61 L494.09,38.57 L499.13,37.64 L504.17,36.83 L509.22,36.06 L514.26,35.33 L519.3,34.66 L524.35,34.06 L529.39,33.55 L534.43,33.12 L539.48,32.71 L544.52,32.34 L549.57,32.01 L554.61,31.73 L559.65,31.51 L564.7,31.33 L569.74,31.15 L574.78,30.98 L579.83,30.82 L584.87,30.7 L589.91,30.59 L594.96,30.53 L600,30.5 L600,30.4 L594.96,30.45 L589.91,30.52 L584.87,30.61 L579.83,30.73 L574.78,30.86 L569.74,31 L564.7,31.15 L559.65,31.31 L554.61,31.49 L549.57,31.71 L544.52,31.95 L539.48,32.22 L534.43,32.52 L529.39,32.84 L524.35,33.19 L519.3,33.55 L514.26,33.97 L509.22,34.46 L504.17,35.01 L499.13,35.61 L494.09,36.28 L489.04,37.04 L484,37.84 L478.96,38.67 L473.91,39.53 L468.87,40.43 L463.83,41.37 L458.78,42.34 L453.74,43.34 L448.7,44.37 L443.65,45.43 L438.61,46.52 L433.57,47.66 L428.52,48.85 L423.48,50.1 L418.43,51.43 L413.39,52.91 L408.35,54.49 L403.3,56.09 L398.26,57.61 L393.22,59.06 L388.17,60.49 L383.13,61.95 L378.09,63.49 L373.04,65.05 L368,66.67 L362.96,68.41 L357.91,70.31 L352.87,72.41 L347.83,74.69 L342.78,77.11 L337.74,79.65 L332.7,82.33 L327.65,85.2 L322.61,88.29 L317.57,91.69 L312.52,95.55 L307.48,99.7 L302.43,103.96 L297.39,108.16 L292.35,112.36 L287.3,116.72 L282.26,121.39 L277.22,126.43 L272.17,131.82 L267.13,137.5 L262.09,143.51 L257.04,149.93 L252,156.81 L250,159.76 L247.75,163.17 L245.55,166.56 L243.39,169.89 L241.28,173.08 L239.21,176.1 L237.19,179.01 L235.22,181.9 L233.3,184.85 L231.42,187.93 L229.59,191.19 L227.8,194.66 L226.06,198.23 L224.37,201.83 L222.72,205.4 L221.12,208.88 L219.56,212.22 L218.06,215.41 L216.59,218.59 L215.18,221.74 L213.81,224.97 L212.49,228.29 L211.21,231.81 L209.98,235.45 L208.8,239.1 L207.66,242.68 L206.57,246.09 L205.53,249.34 L204.53,252.49 L203.58,255.53 L202.67,258.47 L201.82,261.27 L201,264 L200.24,266.56 L199.52,269 L198.85,271.31 L198.22,273.53 L197.64,275.62 L197.11,277.59 L196.62,279.46 L196.18,281.19 L195.78,282.79 L195.44,284.19 L195.14,285.43 L194.88,286.53 L194.67,287.42 L194.51,288.1 L194.39,288.61 L194.32,288.91 L194.3,289 Z" fill="#8B0000" fill-opacity="0.17"/>
<path d="M194.3,250 L194.32,249.15 L194.39,246.24 L194.51,241.52 L194.67,235.93 L194.88,229.97 L195.14,223.71 L195.44,216.73 L195.78,209.05 L196.18,200.42 L196.62,191.53 L197.11,181.79 L197.64,169.8 L198.22,160 L198.85,153.29 L199.52,148.27 L200.24,144.1 L201,140.26 L201.82,136.64 L202.67,133.34 L203.58,130.28 L204.53,127.53 L205.53,124.74 L206.57,121.99 L207.66,119.7 L208.8,117.73 L209.98,115.45 L211.21,113.01 L212.49,110.92 L213.81,109.03 L215.18,107.21 L216.59,105.48 L218.06,103.8 L219.56,102.21 L221.12,100.76 L222.72,99.41 L224.37,98.14 L226.06,96.96 L227.8,95.9 L229.59,94.92 L231.42,93.94 L233.3,92.95 L235.22,91.97 L237.19,90.98 L239.21,89.93 L241.28,88.79 L243.39,87.6 L245.55,86.34 L247.75,85.04 L250,83.7 L252,82.5 L257.04,79.4 L262.09,76.26 L267.13,73.24 L272.17,70.25 L277.22,67.42 L282.26,64.91 L287.3,62.59 L292.35,60.43 L297.39,58.45 L302.43,56.65 L307.48,54.95 L312.52,53.36 L317.57,51.86 L322.61,50.44 L327.65,49.1 L332.7,47.82 L337.74,46.61 L342.78,45.45 L347.83,44.37 L352.87,43.39 L357.91,42.5 L362.96,41.67 L368,40.91 L373.04,40.2 L378.09,39.54 L383.13,38.93 L388.17,38.4 L393.22,37.89 L398.26,37.38 L403.3,36.83 L408.35,36.24 L413.39,35.65 L418.43,35.14 L423.48,34.71 L428.52,34.33 L433.57,33.97 L438.61,33.64 L443.65,33.34 L448.7,33.07 L453.74,32.82 L458.78,32.59 L463.83,32.39 L468.87,32.19 L473.91,32.01 L478.96,31.84 L484,31.67 L489.04,31.51 L494.09,31.36 L499.13,31.22 L504.17,31.1 L509.22,30.98 L514.26,30.87 L519.3,30.77 L524.35,30.68 L529.39,30.61 L534.43,30.54 L539.48,30.48 L544.52,30.42 L549.57,30.37 L554.61,30.33 L559.65,30.3 L564.7,30.28 L569.74,30.26 L574.78,30.24 L579.83,30.23 L584.87,30.22 L589.91,30.21 L594.96,30.2 L600,30.2 L600,30 L594.96,30 L589.91,30 L584.87,30 L579.83,30 L574.78,30 L569.74,30 L564.7,30 L559.65,30 L554.61,30.01 L549.57,30.03 L544.52,30.07 L539.48,30.11 L534.43,30.16 L529.39,30.21 L524.35,30.25 L519.3,30.31 L514.26,30.37 L509.22,30.44 L504.17,30.52 L499.13,30.62 L494.09,30.74 L489.04,30.9 L484,31.07 L478.96,31.23 L473.91,31.4 L468.87,31.58 L463.83,31.76 L458.78,31.95 L453.74,32.15 L448.7,32.36 L443.65,32.58 L438.61,32.81 L433.57,33.05 L428.52,33.31 L423.48,33.59 L418.43,33.9 L413.39,34.26 L408.35,34.66 L403.3,35.06 L398.26,35.42 L393.22,35.75 L388.17,36.07 L383.13,36.39 L378.09,36.73 L373.04,37.04 L368,37.37 L362.96,37.74 L357.91,38.21 L352.87,38.78 L347.83,39.46 L342.78,40.23 L337.74,41.08 L332.7,41.99 L327.65,42.98 L322.61,44.15 L317.57,45.48 L312.52,46.92 L307.48,48.38 L302.43,49.83 L297.39,51.2 L292.35,52.5 L287.3,53.84 L282.26,55.29 L277.22,56.95 L272.17,58.87 L267.13,60.92 L262.09,63.01 L257.04,65.2 L252,67.5 L250,68.45 L247.75,69.55 L245.55,70.66 L243.39,71.76 L241.28,72.85 L239.21,73.93 L237.19,75 L235.22,76.07 L233.3,77.15 L231.42,78.23 L229.59,79.34 L227.8,80.48 L226.06,81.6 L224.37,82.64 L222.72,83.69 L221.12,84.88 L219.56,86.23 L218.06,87.6 L216.59,88.96 L215.18,90.41 L213.81,92.11 L212.49,94.12 L211.21,96.3 L209.98,98.57 L208.8,101.08 L207.66,104.07 L206.57,107.53 L205.53,111.28 L204.53,115.46 L203.58,120.27 L202.67,125.22 L201.82,128.63 L201,131.47 L200.24,134.73 L199.52,138.66 L198.85,142.73 L198.22,147.79 L197.64,157.84 L197.11,169.6 L196.62,181.54 L196.18,191.38 L195.78,200.47 L195.44,208.64 L195.14,216.24 L194.88,223.24 L194.67,229.19 L194.51,234.62 L194.39,239.79 L194.32,243.34 L194.3,244.41 Z" fill="#8B0000" fill-opacity="0.17"/>
<path d="M194.3,289.15 L194.32,289.07 L194.39,288.79 L194.51,288.32 L194.67,287.69 L194.88,286.88 L195.14,285.87 L195.44,284.71 L195.78,283.42 L196.18,281.92 L196.62,280.3 L197.11,278.54 L197.64,276.68 L198.22,274.68 L198.85,272.56 L199.52,270.34 L200.24,267.98 L201,265.5 L201.82,262.84 L202.67,260.1 L203.58,257.19 L204.53,254.2 L205.53,251.1 L206.57,247.91 L207.66,244.56 L208.8,241.05 L209.98,237.47 L211.21,233.9 L212.49,230.43 L213.81,227.15 L215.18,223.96 L216.59,220.83 L218.06,217.68 L219.56,214.52 L221.12,211.23 L222.72,207.84 L224.37,204.36 L226.06,200.88 L227.8,197.42 L229.59,194.07 L231.42,190.91 L233.3,187.91 L235.22,185.02 L237.19,182.16 L239.21,179.26 L241.28,176.22 L243.39,173.02 L245.55,169.68 L247.75,166.26 L250,162.82 L252,159.84 L257.04,152.81 L262.09,146.2 L267.13,140.08 L272.17,134.33 L277.22,128.88 L282.26,123.77 L287.3,119.03 L292.35,114.57 L297.39,110.29 L302.43,106.04 L307.48,101.71 L312.52,97.5 L317.57,93.59 L322.61,90.15 L327.65,87.03 L332.7,84.14 L337.74,81.41 L342.78,78.78 L347.83,76.21 L352.87,73.78 L357.91,71.55 L362.96,69.56 L368,67.77 L373.04,66.11 L378.09,64.5 L383.13,62.91 L388.17,61.39 L393.22,59.9 L398.26,58.4 L403.3,56.82 L408.35,55.14 L413.39,53.49 L418.43,51.96 L423.48,50.61 L428.52,49.35 L433.57,48.16 L438.61,47.03 L443.65,45.94 L448.7,44.88 L453.74,43.84 L458.78,42.84 L463.83,41.86 L468.87,40.92 L473.91,40.01 L478.96,39.13 L484,38.27 L489.04,37.42 L494.09,36.62 L499.13,35.91 L504.17,35.29 L509.22,34.7 L514.26,34.18 L519.3,33.72 L524.35,33.32 L529.39,32.95 L534.43,32.61 L539.48,32.3 L544.52,32.01 L549.57,31.75 L554.61,31.53 L559.65,31.34 L564.7,31.18 L569.74,31.02 L574.78,30.87 L579.83,30.74 L584.87,30.62 L589.91,30.53 L594.96,30.46 L600,30.41" fill="none" stroke="#8B0000" stroke-opacity="0.22" stroke-width="0.7"/>
<path d="M194.3,249.16 L194.32,248.28 L194.39,245.28 L194.51,240.48 L194.67,234.92 L194.88,228.96 L195.14,222.59 L195.44,215.51 L195.78,207.76 L196.18,199.07 L196.62,190.03 L197.11,179.96 L197.64,168 L198.22,158.17 L198.85,151.7 L199.52,146.83 L200.24,142.69 L201,138.94 L201.82,135.44 L202.67,132.12 L203.58,128.78 L204.53,125.72 L205.53,122.72 L206.57,119.82 L207.66,117.36 L208.8,115.23 L209.98,112.92 L211.21,110.51 L212.49,108.4 L213.81,106.49 L215.18,104.69 L216.59,103 L218.06,101.37 L219.56,99.81 L221.12,98.38 L222.72,97.05 L224.37,95.81 L226.06,94.66 L227.8,93.59 L229.59,92.58 L231.42,91.58 L233.3,90.58 L235.22,89.59 L237.19,88.58 L239.21,87.53 L241.28,86.4 L243.39,85.22 L245.55,83.99 L247.75,82.72 L250,81.41 L252,80.25 L257.04,77.27 L262.09,74.27 L267.13,71.39 L272.17,68.54 L277.22,65.85 L282.26,63.47 L287.3,61.28 L292.35,59.24 L297.39,57.37 L302.43,55.63 L307.48,53.97 L312.52,52.4 L317.57,50.9 L322.61,49.5 L327.65,48.18 L332.7,46.95 L337.74,45.78 L342.78,44.67 L347.83,43.64 L352.87,42.7 L357.91,41.85 L362.96,41.08 L368,40.37 L373.04,39.72 L378.09,39.11 L383.13,38.55 L388.17,38.05 L393.22,37.57 L398.26,37.09 L403.3,36.57 L408.35,36 L413.39,35.45 L418.43,34.95 L423.48,34.55 L428.52,34.17 L433.57,33.83 L438.61,33.51 L443.65,33.22 L448.7,32.96 L453.74,32.72 L458.78,32.5 L463.83,32.29 L468.87,32.1 L473.91,31.92 L478.96,31.75 L484,31.58 L489.04,31.41 L494.09,31.26 L499.13,31.13 L504.17,31.01 L509.22,30.9 L514.26,30.8 L519.3,30.7 L524.35,30.62 L529.39,30.55 L534.43,30.48 L539.48,30.42 L544.52,30.37 L549.57,30.32 L554.61,30.28 L559.65,30.26 L564.7,30.24 L569.74,30.22 L574.78,30.21 L579.83,30.2 L584.87,30.18 L589.91,30.18 L594.96,30.17 L600,30.17" fill="none" stroke="#8B0000" stroke-opacity="0.22" stroke-width="0.7"/>
<path d="M194.3,289.27 L194.32,289.2 L194.39,288.94 L194.51,288.5 L194.67,287.92 L194.88,287.16 L195.14,286.22 L195.44,285.14 L195.78,283.93 L196.18,282.52 L196.62,280.99 L197.11,279.31 L197.64,277.53 L198.22,275.62 L198.85,273.57 L199.52,271.42 L200.24,269.13 L201,266.71 L201.82,264.11 L202.67,261.41 L203.58,258.54 L204.53,255.58 L205.53,252.53 L206.57,249.38 L207.66,246.08 L208.8,242.62 L209.98,239.11 L211.21,235.59 L212.49,232.16 L213.81,228.92 L215.18,225.75 L216.59,222.64 L218.06,219.51 L219.56,216.38 L221.12,213.14 L222.72,209.81 L224.37,206.42 L226.06,203.02 L227.8,199.66 L229.59,196.41 L231.42,193.33 L233.3,190.39 L235.22,187.55 L237.19,184.71 L239.21,181.82 L241.28,178.77 L243.39,175.56 L245.55,172.2 L247.75,168.77 L250,165.29 L252,162.28 L257.04,155.14 L262.09,148.38 L267.13,142.16 L272.17,136.36 L277.22,130.86 L282.26,125.7 L287.3,120.89 L292.35,116.36 L297.39,112.02 L302.43,107.71 L307.48,103.33 L312.52,99.08 L317.57,95.12 L322.61,91.65 L327.65,88.52 L332.7,85.6 L337.74,82.84 L342.78,80.13 L347.83,77.45 L352.87,74.89 L357.91,72.56 L362.96,70.5 L368,68.66 L373.04,66.96 L378.09,65.32 L383.13,63.68 L388.17,62.12 L393.22,60.58 L398.26,59.03 L403.3,57.4 L408.35,55.67 L413.39,53.96 L418.43,52.39 L423.48,51.02 L428.52,49.76 L433.57,48.57 L438.61,47.44 L443.65,46.36 L448.7,45.29 L453.74,44.25 L458.78,43.24 L463.83,42.26 L468.87,41.32 L473.91,40.39 L478.96,39.5 L484,38.61 L489.04,37.73 L494.09,36.9 L499.13,36.16 L504.17,35.51 L509.22,34.9 L514.26,34.34 L519.3,33.85 L524.35,33.43 L529.39,33.04 L534.43,32.68 L539.48,32.35 L544.52,32.06 L549.57,31.79 L554.61,31.56 L559.65,31.37 L564.7,31.2 L569.74,31.04 L574.78,30.89 L579.83,30.75 L584.87,30.63 L589.91,30.54 L594.96,30.47 L600,30.43" fill="none" stroke="#8B0000" stroke-opacity="0.22" stroke-width="0.7"/>
<path d="M194.3,248.48 L194.32,247.57 L194.39,244.49 L194.51,239.64 L194.67,234.1 L194.88,228.14 L195.14,221.68 L195.44,214.53 L195.78,206.72 L196.18,197.97 L196.62,188.82 L197.11,178.48 L197.64,166.55 L198.22,156.69 L198.85,150.42 L199.52,145.66 L200.24,141.55 L201,137.87 L201.82,134.47 L202.67,131.14 L203.58,127.57 L204.53,124.25 L205.53,121.08 L206.57,118.06 L207.66,115.46 L208.8,113.21 L209.98,110.87 L211.21,108.48 L212.49,106.36 L213.81,104.44 L215.18,102.65 L216.59,100.99 L218.06,99.4 L219.56,97.87 L221.12,96.45 L222.72,95.14 L224.37,93.93 L226.06,92.79 L227.8,91.71 L229.59,90.69 L231.42,89.67 L233.3,88.66 L235.22,87.66 L237.19,86.64 L239.21,85.58 L241.28,84.47 L243.39,83.3 L245.55,82.09 L247.75,80.84 L250,79.56 L252,78.43 L257.04,75.55 L262.09,72.66 L267.13,69.89 L272.17,67.16 L277.22,64.58 L282.26,62.3 L287.3,60.22 L292.35,58.28 L297.39,56.48 L302.43,54.8 L307.48,53.17 L312.52,51.61 L317.57,50.13 L322.61,48.73 L327.65,47.44 L332.7,46.24 L337.74,45.1 L342.78,44.03 L347.83,43.04 L352.87,42.14 L357.91,41.33 L362.96,40.6 L368,39.95 L373.04,39.34 L378.09,38.77 L383.13,38.24 L388.17,37.77 L393.22,37.31 L398.26,36.85 L403.3,36.35 L408.35,35.81 L413.39,35.28 L418.43,34.8 L423.48,34.41 L428.52,34.05 L433.57,33.72 L438.61,33.41 L443.65,33.13 L448.7,32.87 L453.74,32.64 L458.78,32.42 L463.83,32.22 L468.87,32.03 L473.91,31.85 L478.96,31.67 L484,31.5 L489.04,31.34 L494.09,31.19 L499.13,31.06 L504.17,30.94 L509.22,30.84 L514.26,30.74 L519.3,30.65 L524.35,30.57 L529.39,30.5 L534.43,30.44 L539.48,30.38 L544.52,30.33 L549.57,30.28 L554.61,30.24 L559.65,30.22 L564.7,30.2 L569.74,30.19 L574.78,30.18 L579.83,30.17 L584.87,30.16 L589.91,30.15 L594.96,30.15 L600,30.15" fill="none" stroke="#8B0000" stroke-opacity="0.22" stroke-width="0.7"/>
<path d="M194.3,289.39 L194.32,289.33 L194.39,289.09 L194.51,288.68 L194.67,288.15 L194.88,287.44 L195.14,286.57 L195.44,285.57 L195.78,284.44 L196.18,283.12 L196.62,281.67 L197.11,280.08 L197.64,278.39 L198.22,276.55 L198.85,274.58 L199.52,272.5 L200.24,270.27 L201,267.93 L201.82,265.38 L202.67,262.73 L203.58,259.89 L204.53,256.97 L205.53,253.96 L206.57,250.86 L207.66,247.6 L208.8,244.2 L209.98,240.74 L211.21,237.28 L212.49,233.9 L213.81,230.69 L215.18,227.55 L216.59,224.46 L218.06,221.35 L219.56,218.25 L221.12,215.05 L222.72,211.78 L224.37,208.47 L226.06,205.17 L227.8,201.9 L229.59,198.74 L231.42,195.75 L233.3,192.87 L235.22,190.07 L237.19,187.26 L239.21,184.37 L241.28,181.32 L243.39,178.09 L245.55,174.72 L247.75,171.27 L250,167.77 L252,164.73 L257.04,157.47 L262.09,150.56 L267.13,144.25 L272.17,138.39 L277.22,132.85 L282.26,127.63 L287.3,122.76 L292.35,118.15 L297.39,113.75 L302.43,109.39 L307.48,104.96 L312.52,100.66 L317.57,96.66 L322.61,93.15 L327.65,90 L332.7,87.07 L337.74,84.26 L342.78,81.48 L347.83,78.68 L352.87,76 L357.91,73.56 L362.96,71.44 L368,69.56 L373.04,67.82 L378.09,66.13 L383.13,64.46 L388.17,62.85 L393.22,61.27 L398.26,59.67 L403.3,57.99 L408.35,56.2 L413.39,54.43 L418.43,52.82 L423.48,51.44 L428.52,50.17 L433.57,48.98 L438.61,47.85 L443.65,46.77 L448.7,45.71 L453.74,44.66 L458.78,43.65 L463.83,42.67 L468.87,41.71 L473.91,40.78 L478.96,39.86 L484,38.96 L489.04,38.05 L494.09,37.18 L499.13,36.41 L504.17,35.73 L509.22,35.09 L514.26,34.5 L519.3,33.99 L524.35,33.53 L529.39,33.12 L534.43,32.76 L539.48,32.41 L544.52,32.1 L549.57,31.83 L554.61,31.59 L559.65,31.39 L564.7,31.22 L569.74,31.06 L574.78,30.9 L579.83,30.76 L584.87,30.64 L589.91,30.55 L594.96,30.48 L600,30.44" fill="none" stroke="#8B0000" stroke-opacity="0.22" stroke-width="0.7"/>
<path d="M194.3,247.8 L194.32,246.87 L194.39,243.71 L194.51,238.81 L194.67,233.28 L194.88,227.33 L195.14,220.78 L195.44,213.55 L195.78,205.68 L196.18,196.87 L196.62,187.6 L197.11,177 L197.64,165.1 L198.22,155.2 L198.85,149.14 L199.52,144.5 L200.24,140.41 L201,136.81 L201.82,133.49 L202.67,130.15 L203.58,126.35 L204.53,122.79 L205.53,119.45 L206.57,116.31 L207.66,113.56 L208.8,111.19 L209.98,108.82 L211.21,106.45 L212.49,104.32 L213.81,102.38 L215.18,100.61 L216.59,98.99 L218.06,97.44 L219.56,95.93 L221.12,94.52 L222.72,93.24 L224.37,92.05 L226.06,90.93 L227.8,89.84 L229.59,88.8 L231.42,87.77 L233.3,86.74 L235.22,85.73 L237.19,84.7 L239.21,83.64 L241.28,82.53 L243.39,81.38 L245.55,80.18 L247.75,78.96 L250,77.71 L252,76.61 L257.04,73.82 L262.09,71.05 L267.13,68.4 L272.17,65.78 L277.22,63.31 L282.26,61.13 L287.3,59.15 L292.35,57.32 L297.39,55.6 L302.43,53.97 L307.48,52.37 L312.52,50.83 L317.57,49.35 L322.61,47.97 L327.65,46.7 L332.7,45.53 L337.74,44.43 L342.78,43.4 L347.83,42.44 L352.87,41.58 L357.91,40.81 L362.96,40.13 L368,39.52 L373.04,38.96 L378.09,38.43 L383.13,37.94 L388.17,37.48 L393.22,37.05 L398.26,36.61 L403.3,36.13 L408.35,35.62 L413.39,35.11 L418.43,34.65 L423.48,34.27 L428.52,33.93 L433.57,33.61 L438.61,33.31 L443.65,33.04 L448.7,32.79 L453.74,32.55 L458.78,32.34 L463.83,32.14 L468.87,31.95 L473.91,31.77 L478.96,31.6 L484,31.43 L489.04,31.27 L494.09,31.11 L499.13,30.98 L504.17,30.87 L509.22,30.77 L514.26,30.68 L519.3,30.59 L524.35,30.52 L529.39,30.45 L534.43,30.39 L539.48,30.33 L544.52,30.28 L549.57,30.24 L554.61,30.2 L559.65,30.18 L564.7,30.17 L569.74,30.16 L574.78,30.15 L579.83,30.14 L584.87,30.13 L589.91,30.13 L594.96,30.12 L600,30.12" fill="none" stroke="#8B0000" stroke-opacity="0.22" stroke-width="0.7"/>
<path d="M194.3,289.51 L194.32,289.45 L194.39,289.24 L194.51,288.87 L194.67,288.37 L194.88,287.72 L195.14,286.92 L195.44,286 L195.78,284.95 L196.18,283.71 L196.62,282.36 L197.11,280.86 L197.64,279.24 L198.22,277.49 L198.85,275.59 L199.52,273.58 L200.24,271.42 L201,269.14 L201.82,266.65 L202.67,264.04 L203.58,261.24 L204.53,258.35 L205.53,255.38 L206.57,252.33 L207.66,249.12 L208.8,245.78 L209.98,242.38 L211.21,238.97 L212.49,235.64 L213.81,232.46 L215.18,229.34 L216.59,226.27 L218.06,223.18 L219.56,220.11 L221.12,216.95 L222.72,213.76 L224.37,210.53 L226.06,207.31 L227.8,204.14 L229.59,201.08 L231.42,198.16 L233.3,195.35 L235.22,192.6 L237.19,189.82 L239.21,186.93 L241.28,183.87 L243.39,180.63 L245.55,177.24 L247.75,173.77 L250,170.25 L252,167.18 L257.04,159.8 L262.09,152.74 L267.13,146.33 L272.17,140.42 L277.22,134.83 L282.26,129.56 L287.3,124.63 L292.35,119.95 L297.39,115.48 L302.43,111.06 L307.48,106.59 L312.52,102.24 L317.57,98.2 L322.61,94.65 L327.65,91.48 L332.7,88.53 L337.74,85.69 L342.78,82.82 L347.83,79.91 L352.87,77.11 L357.91,74.56 L362.96,72.37 L368,70.45 L373.04,68.67 L378.09,66.95 L383.13,65.23 L388.17,63.58 L393.22,61.95 L398.26,60.3 L403.3,58.57 L408.35,56.72 L413.39,54.91 L418.43,53.26 L423.48,51.85 L428.52,50.58 L433.57,49.39 L438.61,48.27 L443.65,47.19 L448.7,46.12 L453.74,45.07 L458.78,44.05 L463.83,43.07 L468.87,42.11 L473.91,41.16 L478.96,40.23 L484,39.3 L489.04,38.36 L494.09,37.46 L499.13,36.65 L504.17,35.95 L509.22,35.28 L514.26,34.67 L519.3,34.12 L524.35,33.64 L529.39,33.21 L534.43,32.83 L539.48,32.47 L544.52,32.15 L549.57,31.86 L554.61,31.62 L559.65,31.42 L564.7,31.24 L569.74,31.07 L574.78,30.92 L579.83,30.78 L584.87,30.65 L589.91,30.56 L594.96,30.49 L600,30.45" fill="none" stroke="#8B0000" stroke-opacity="0.22" stroke-width="0.7"/>
<path d="M194.3,247.12 L194.32,246.16 L194.39,242.93 L194.51,237.97 L194.67,232.46 L194.88,226.51 L195.14,219.87 L195.44,212.57 L195.78,204.64 L196.18,195.77 L196.62,186.39 L197.11,175.52 L197.64,163.65 L198.22,153.72 L198.85,147.86 L199.52,143.33 L200.24,139.28 L201,135.74 L201.82,132.52 L202.67,129.16 L203.58,125.14 L204.53,121.32 L205.53,117.82 L206.57,114.55 L207.66,111.66 L208.8,109.17 L209.98,106.77 L211.21,104.42 L212.49,102.28 L213.81,100.33 L215.18,98.57 L216.59,96.98 L218.06,95.47 L219.56,93.99 L221.12,92.6 L222.72,91.33 L224.37,90.17 L226.06,89.06 L227.8,87.97 L229.59,86.91 L231.42,85.86 L233.3,84.82 L235.22,83.8 L237.19,82.76 L239.21,81.7 L241.28,80.59 L243.39,79.45 L245.55,78.28 L247.75,77.08 L250,75.86 L252,74.79 L257.04,72.1 L262.09,69.45 L267.13,66.9 L272.17,64.4 L277.22,62.04 L282.26,59.96 L287.3,58.09 L292.35,56.36 L297.39,54.72 L302.43,53.14 L307.48,51.57 L312.52,50.05 L317.57,48.58 L322.61,47.21 L327.65,45.95 L332.7,44.82 L337.74,43.76 L342.78,42.77 L347.83,41.85 L352.87,41.02 L357.91,40.29 L362.96,39.65 L368,39.09 L373.04,38.57 L378.09,38.09 L383.13,37.63 L388.17,37.2 L393.22,36.79 L398.26,36.37 L403.3,35.92 L408.35,35.43 L413.39,34.94 L418.43,34.5 L423.48,34.14 L428.52,33.81 L433.57,33.5 L438.61,33.21 L443.65,32.95 L448.7,32.7 L453.74,32.47 L458.78,32.26 L463.83,32.06 L468.87,31.88 L473.91,31.7 L478.96,31.53 L484,31.36 L489.04,31.19 L494.09,31.04 L499.13,30.91 L504.17,30.8 L509.22,30.71 L514.26,30.62 L519.3,30.53 L524.35,30.46 L529.39,30.4 L534.43,30.35 L539.48,30.29 L544.52,30.24 L549.57,30.2 L554.61,30.17 L559.65,30.15 L564.7,30.14 L569.74,30.13 L574.78,30.12 L579.83,30.11 L584.87,30.11 L589.91,30.1 L594.96,30.1 L600,30.1" fill="none" stroke="#8B0000" stroke-opacity="0.22" stroke-width="0.7"/>
<path d="M194.3,289.64 L194.32,289.58 L194.39,289.38 L194.51,289.05 L194.67,288.6 L194.88,288.01 L195.14,287.27 L195.44,286.43 L195.78,285.46 L196.18,284.31 L196.62,283.04 L197.11,281.63 L197.64,280.1 L198.22,278.43 L198.85,276.61 L199.52,274.66 L200.24,272.57 L201,270.36 L201.82,267.93 L202.67,265.35 L203.58,262.59 L204.53,259.73 L205.53,256.81 L206.57,253.8 L207.66,250.65 L208.8,247.36 L209.98,244.02 L211.21,240.66 L212.49,237.37 L213.81,234.23 L215.18,231.14 L216.59,228.09 L218.06,225.02 L219.56,221.97 L221.12,218.86 L222.72,215.73 L224.37,212.58 L226.06,209.46 L227.8,206.38 L229.59,203.41 L231.42,200.58 L233.3,197.83 L235.22,195.12 L237.19,192.37 L239.21,189.49 L241.28,186.42 L243.39,183.17 L245.55,179.77 L247.75,176.28 L250,172.72 L252,169.63 L257.04,162.13 L262.09,154.92 L267.13,148.41 L272.17,142.44 L277.22,136.81 L282.26,131.49 L287.3,126.49 L292.35,121.74 L297.39,117.2 L302.43,112.74 L307.48,108.22 L312.52,103.82 L317.57,99.73 L322.61,96.16 L327.65,92.97 L332.7,90 L337.74,87.11 L342.78,84.17 L347.83,81.15 L352.87,78.22 L357.91,75.57 L362.96,73.31 L368,71.34 L373.04,69.53 L378.09,67.77 L383.13,66 L388.17,64.3 L393.22,62.63 L398.26,60.94 L403.3,59.16 L408.35,57.25 L413.39,55.38 L418.43,53.69 L423.48,52.27 L428.52,50.98 L433.57,49.8 L438.61,48.68 L443.65,47.6 L448.7,46.54 L453.74,45.48 L458.78,44.46 L463.83,43.47 L468.87,42.5 L473.91,41.55 L478.96,40.6 L484,39.64 L489.04,38.67 L494.09,37.74 L499.13,36.9 L504.17,36.17 L509.22,35.48 L514.26,34.83 L519.3,34.26 L524.35,33.74 L529.39,33.3 L534.43,32.9 L539.48,32.53 L544.52,32.2 L549.57,31.9 L554.61,31.65 L559.65,31.44 L564.7,31.26 L569.74,31.09 L574.78,30.93 L579.83,30.79 L584.87,30.67 L589.91,30.57 L594.96,30.5 L600,30.46" fill="none" stroke="#8B0000" stroke-opacity="0.22" stroke-width="0.7"/>
<path d="M194.3,246.44 L194.32,245.46 L194.39,242.14 L194.51,237.13 L194.67,231.65 L194.88,225.69 L195.14,218.96 L195.44,211.58 L195.78,203.6 L196.18,194.68 L196.62,185.18 L197.11,174.04 L197.64,162.19 L198.22,152.24 L198.85,146.58 L199.52,142.16 L200.24,138.14 L201,134.67 L201.82,131.55 L202.67,128.18 L203.58,123.92 L204.53,119.85 L205.53,116.18 L206.57,112.8 L207.66,109.76 L208.8,107.15 L209.98,104.72 L211.21,102.39 L212.49,100.24 L213.81,98.27 L215.18,96.53 L216.59,94.98 L218.06,93.5 L219.56,92.05 L221.12,90.67 L222.72,89.42 L224.37,88.29 L226.06,87.19 L227.8,86.1 L229.59,85.01 L231.42,83.95 L233.3,82.9 L235.22,81.87 L237.19,80.82 L239.21,79.76 L241.28,78.66 L243.39,77.53 L245.55,76.37 L247.75,75.19 L250,74 L252,72.96 L257.04,70.38 L262.09,67.84 L267.13,65.41 L272.17,63.01 L277.22,60.76 L282.26,58.79 L287.3,57.03 L292.35,55.39 L297.39,53.84 L302.43,52.31 L307.48,50.78 L312.52,49.26 L317.57,47.81 L322.61,46.44 L327.65,45.21 L332.7,44.11 L337.74,43.09 L342.78,42.13 L347.83,41.25 L352.87,40.46 L357.91,39.77 L362.96,39.17 L368,38.66 L373.04,38.19 L378.09,37.75 L383.13,37.32 L388.17,36.92 L393.22,36.53 L398.26,36.14 L403.3,35.7 L408.35,35.23 L413.39,34.77 L418.43,34.35 L423.48,34 L428.52,33.68 L433.57,33.39 L438.61,33.11 L443.65,32.85 L448.7,32.61 L453.74,32.39 L458.78,32.18 L463.83,31.99 L468.87,31.8 L473.91,31.62 L478.96,31.45 L484,31.28 L489.04,31.12 L494.09,30.97 L499.13,30.84 L504.17,30.73 L509.22,30.64 L514.26,30.55 L519.3,30.48 L524.35,30.41 L529.39,30.35 L534.43,30.3 L539.48,30.25 L544.52,30.2 L549.57,30.16 L554.61,30.13 L559.65,30.11 L564.7,30.1 L569.74,30.1 L574.78,30.09 L579.83,30.08 L584.87,30.08 L589.91,30.08 L594.96,30.07 L600,30.07" fill="none" stroke="#8B0000" stroke-opacity="0.22" stroke-width="0.7"/>
<path d="M194.3,289.76 L194.32,289.71 L194.39,289.53 L194.51,289.23 L194.67,288.82 L194.88,288.29 L195.14,287.63 L195.44,286.85 L195.78,285.97 L196.18,284.9 L196.62,283.72 L197.11,282.4 L197.64,280.96 L198.22,279.36 L198.85,277.62 L199.52,275.75 L200.24,273.72 L201,271.57 L201.82,269.2 L202.67,266.67 L203.58,263.94 L204.53,261.11 L205.53,258.24 L206.57,255.27 L207.66,252.17 L208.8,248.93 L209.98,245.65 L211.21,242.35 L212.49,239.11 L213.81,235.99 L215.18,232.93 L216.59,229.9 L218.06,226.85 L219.56,223.83 L221.12,220.77 L222.72,217.7 L224.37,214.64 L226.06,211.6 L227.8,208.61 L229.59,205.74 L231.42,202.99 L233.3,200.31 L235.22,197.64 L237.19,194.92 L239.21,192.05 L241.28,188.97 L243.39,185.7 L245.55,182.29 L247.75,178.78 L250,175.2 L252,172.07 L257.04,164.46 L262.09,157.1 L267.13,150.5 L272.17,144.47 L277.22,138.79 L282.26,133.42 L287.3,128.36 L292.35,123.53 L297.39,118.93 L302.43,114.42 L307.48,109.84 L312.52,105.4 L317.57,101.27 L322.61,97.66 L327.65,94.45 L332.7,91.46 L337.74,88.54 L342.78,85.52 L347.83,82.38 L352.87,79.33 L357.91,76.57 L362.96,74.25 L368,72.23 L373.04,70.38 L378.09,68.59 L383.13,66.78 L388.17,65.03 L393.22,63.31 L398.26,61.58 L403.3,59.74 L408.35,57.78 L413.39,55.85 L418.43,54.12 L423.48,52.68 L428.52,51.39 L433.57,50.2 L438.61,49.09 L443.65,48.02 L448.7,46.95 L453.74,45.89 L458.78,44.87 L463.83,43.87 L468.87,42.9 L473.91,41.93 L478.96,40.97 L484,39.99 L489.04,38.98 L494.09,38.01 L499.13,37.15 L504.17,36.39 L509.22,35.67 L514.26,35 L519.3,34.39 L524.35,33.85 L529.39,33.38 L534.43,32.97 L539.48,32.59 L544.52,32.24 L549.57,31.94 L554.61,31.68 L559.65,31.46 L564.7,31.28 L569.74,31.11 L574.78,30.95 L579.83,30.8 L584.87,30.68 L589.91,30.58 L594.96,30.51 L600,30.48" fill="none" stroke="#8B0000" stroke-opacity="0.22" stroke-width="0.7"/>
<path d="M194.3,245.77 L194.32,244.75 L194.39,241.36 L194.51,236.29 L194.67,230.83 L194.88,224.88 L195.14,218.05 L195.44,210.6 L195.78,202.56 L196.18,193.58 L196.62,183.96 L197.11,172.56 L197.64,160.74 L198.22,150.75 L198.85,145.29 L199.52,140.99 L200.24,137 L201,133.61 L201.82,130.57 L202.67,127.19 L203.58,122.7 L204.53,118.39 L205.53,114.55 L206.57,111.04 L207.66,107.87 L208.8,105.13 L209.98,102.67 L211.21,100.36 L212.49,98.2 L213.81,96.22 L215.18,94.49 L216.59,92.97 L218.06,91.54 L219.56,90.11 L221.12,88.74 L222.72,87.51 L224.37,86.41 L226.06,85.33 L227.8,84.23 L229.59,83.12 L231.42,82.04 L233.3,80.98 L235.22,79.94 L237.19,78.88 L239.21,77.82 L241.28,76.72 L243.39,75.61 L245.55,74.47 L247.75,73.31 L250,72.15 L252,71.14 L257.04,68.65 L262.09,66.23 L267.13,63.91 L272.17,61.63 L277.22,59.49 L282.26,57.63 L287.3,55.97 L292.35,54.43 L297.39,52.96 L302.43,51.49 L307.48,49.98 L312.52,48.48 L317.57,47.03 L322.61,45.68 L327.65,44.46 L332.7,43.41 L337.74,42.42 L342.78,41.5 L347.83,40.65 L352.87,39.9 L357.91,39.25 L362.96,38.7 L368,38.23 L373.04,37.81 L378.09,37.41 L383.13,37.01 L388.17,36.64 L393.22,36.27 L398.26,35.9 L403.3,35.49 L408.35,35.04 L413.39,34.6 L418.43,34.2 L423.48,33.87 L428.52,33.56 L433.57,33.27 L438.61,33.01 L443.65,32.76 L448.7,32.53 L453.74,32.31 L458.78,32.1 L463.83,31.91 L468.87,31.73 L473.91,31.55 L478.96,31.38 L484,31.21 L489.04,31.04 L494.09,30.89 L499.13,30.76 L504.17,30.66 L509.22,30.57 L514.26,30.49 L519.3,30.42 L524.35,30.36 L529.39,30.3 L534.43,30.25 L539.48,30.2 L544.52,30.16 L549.57,30.12 L554.61,30.09 L559.65,30.07 L564.7,30.07 L569.74,30.06 L574.78,30.06 L579.83,30.06 L584.87,30.05 L589.91,30.05 L594.96,30.05 L600,30.05" fill="none" stroke="#8B0000" stroke-opacity="0.22" stroke-width="0.7"/>
<path d="M194.3,289.88 L194.32,289.83 L194.39,289.68 L194.51,289.41 L194.67,289.05 L194.88,288.57 L195.14,287.98 L195.44,287.28 L195.78,286.47 L196.18,285.5 L196.62,284.41 L197.11,283.17 L197.64,281.81 L198.22,280.3 L198.85,278.63 L199.52,276.83 L200.24,274.87 L201,272.79 L201.82,270.47 L202.67,267.98 L203.58,265.28 L204.53,262.5 L205.53,259.67 L206.57,256.75 L207.66,253.69 L208.8,250.51 L209.98,247.29 L211.21,244.05 L212.49,240.84 L213.81,237.76 L215.18,234.73 L216.59,231.72 L218.06,228.68 L219.56,225.69 L221.12,222.67 L222.72,219.68 L224.37,216.69 L226.06,213.74 L227.8,210.85 L229.59,208.08 L231.42,205.41 L233.3,202.79 L235.22,200.17 L237.19,197.47 L239.21,194.61 L241.28,191.51 L243.39,188.24 L245.55,184.81 L247.75,181.28 L250,177.68 L252,174.52 L257.04,166.79 L262.09,159.27 L267.13,152.58 L272.17,146.5 L277.22,140.77 L282.26,135.35 L287.3,130.23 L292.35,125.32 L297.39,120.66 L302.43,116.09 L307.48,111.47 L312.52,106.98 L317.57,102.81 L322.61,99.16 L327.65,95.93 L332.7,92.92 L337.74,89.96 L342.78,86.87 L347.83,83.62 L352.87,80.44 L357.91,77.57 L362.96,75.18 L368,73.12 L373.04,71.24 L378.09,69.4 L383.13,67.55 L388.17,65.76 L393.22,64 L398.26,62.21 L403.3,60.33 L408.35,58.31 L413.39,56.32 L418.43,54.55 L423.48,53.1 L428.52,51.8 L433.57,50.61 L438.61,49.5 L443.65,48.43 L448.7,47.36 L453.74,46.3 L458.78,45.27 L463.83,44.27 L468.87,43.29 L473.91,42.32 L478.96,41.34 L484,40.33 L489.04,39.3 L494.09,38.29 L499.13,37.4 L504.17,36.61 L509.22,35.86 L514.26,35.16 L519.3,34.52 L524.35,33.96 L529.39,33.47 L534.43,33.04 L539.48,32.65 L544.52,32.29 L549.57,31.97 L554.61,31.71 L559.65,31.49 L564.7,31.31 L569.74,31.13 L574.78,30.96 L579.83,30.81 L584.87,30.69 L589.91,30.59 L594.96,30.52 L600,30.49" fill="none" stroke="#8B0000" stroke-opacity="0.22" stroke-width="0.7"/>
<path d="M194.3,245.09 L194.32,244.04 L194.39,240.58 L194.51,235.46 L194.67,230.01 L194.88,224.06 L195.14,217.15 L195.44,209.62 L195.78,201.51 L196.18,192.48 L196.62,182.75 L197.11,171.08 L197.64,159.29 L198.22,149.27 L198.85,144.01 L199.52,139.83 L200.24,135.86 L201,132.54 L201.82,129.6 L202.67,126.2 L203.58,121.49 L204.53,116.92 L205.53,112.91 L206.57,109.28 L207.66,105.97 L208.8,103.1 L209.98,100.62 L211.21,98.33 L212.49,96.16 L213.81,94.16 L215.18,92.45 L216.59,90.97 L218.06,89.57 L219.56,88.17 L221.12,86.81 L222.72,85.6 L224.37,84.52 L226.06,83.46 L227.8,82.35 L229.59,81.23 L231.42,80.14 L233.3,79.07 L235.22,78 L237.19,76.94 L239.21,75.87 L241.28,74.79 L243.39,73.69 L245.55,72.56 L247.75,71.43 L250,70.3 L252,69.32 L257.04,66.93 L262.09,64.62 L267.13,62.42 L272.17,60.25 L277.22,58.22 L282.26,56.46 L287.3,54.9 L292.35,53.47 L297.39,52.08 L302.43,50.66 L307.48,49.18 L312.52,47.7 L317.57,46.26 L322.61,44.92 L327.65,43.72 L332.7,42.7 L337.74,41.75 L342.78,40.86 L347.83,40.05 L352.87,39.34 L357.91,38.73 L362.96,38.22 L368,37.8 L373.04,37.43 L378.09,37.07 L383.13,36.7 L388.17,36.35 L393.22,36.01 L398.26,35.66 L403.3,35.27 L408.35,34.85 L413.39,34.43 L418.43,34.05 L423.48,33.73 L428.52,33.44 L433.57,33.16 L438.61,32.91 L443.65,32.67 L448.7,32.44 L453.74,32.23 L458.78,32.02 L463.83,31.83 L468.87,31.65 L473.91,31.48 L478.96,31.31 L484,31.14 L489.04,30.97 L494.09,30.82 L499.13,30.69 L504.17,30.59 L509.22,30.51 L514.26,30.43 L519.3,30.37 L524.35,30.31 L529.39,30.25 L534.43,30.21 L539.48,30.16 L544.52,30.11 L549.57,30.08 L554.61,30.05 L559.65,30.04 L564.7,30.03 L569.74,30.03 L574.78,30.03 L579.83,30.03 L584.87,30.03 L589.91,30.03 L594.96,30.02 L600,30.02" fill="none" stroke="#8B0000" stroke-opacity="0.22" stroke-width="0.7"/>
<path d="M194.3,290 L194.32,289.96 L194.39,289.82 L194.51,289.59 L194.67,289.27 L194.88,288.86 L195.14,288.33 L195.44,287.71 L195.78,286.98 L196.18,286.1 L196.62,285.09 L197.11,283.94 L197.64,282.67 L198.22,281.23 L198.85,279.64 L199.52,277.91 L200.24,276.02 L201,274 L201.82,271.74 L202.67,269.3 L203.58,266.63 L204.53,263.88 L205.53,261.09 L206.57,258.22 L207.66,255.21 L208.8,252.09 L209.98,248.93 L211.21,245.74 L212.49,242.58 L213.81,239.53 L215.18,236.52 L216.59,233.53 L218.06,230.52 L219.56,227.55 L221.12,224.58 L222.72,221.65 L224.37,218.74 L226.06,215.89 L227.8,213.09 L229.59,210.41 L231.42,207.83 L233.3,205.27 L235.22,202.69 L237.19,200.02 L239.21,197.16 L241.28,194.06 L243.39,190.78 L245.55,187.34 L247.75,183.79 L250,180.16 L252,176.97 L257.04,169.12 L262.09,161.45 L267.13,154.67 L272.17,148.53 L277.22,142.75 L282.26,137.28 L287.3,132.09 L292.35,127.11 L297.39,122.39 L302.43,117.77 L307.48,113.1 L312.52,108.56 L317.57,104.34 L322.61,100.66 L327.65,97.41 L332.7,94.39 L337.74,91.39 L342.78,88.22 L347.83,84.85 L352.87,81.55 L357.91,78.58 L362.96,76.12 L368,74.01 L373.04,72.09 L378.09,70.22 L383.13,68.32 L388.17,66.49 L393.22,64.68 L398.26,62.85 L403.3,60.91 L408.35,58.83 L413.39,56.79 L418.43,54.99 L423.48,53.51 L428.52,52.21 L433.57,51.02 L438.61,49.91 L443.65,48.85 L448.7,47.78 L453.74,46.71 L458.78,45.68 L463.83,44.67 L468.87,43.69 L473.91,42.7 L478.96,41.71 L484,40.68 L489.04,39.61 L494.09,38.57 L499.13,37.64 L504.17,36.83 L509.22,36.06 L514.26,35.33 L519.3,34.66 L524.35,34.06 L529.39,33.55 L534.43,33.12 L539.48,32.71 L544.52,32.34 L549.57,32.01 L554.61,31.73 L559.65,31.51 L564.7,31.33 L569.74,31.15 L574.78,30.98 L579.83,30.82 L584.87,30.7 L589.91,30.59 L594.96,30.53 L600,30.5" fill="none" stroke="#8B0000" stroke-opacity="0.22" stroke-width="0.7"/>
<path d="M194.3,244.41 L194.32,243.34 L194.39,239.79 L194.51,234.62 L194.67,229.19 L194.88,223.24 L195.14,216.24 L195.44,208.64 L195.78,200.47 L196.18,191.38 L196.62,181.54 L197.11,169.6 L197.64,157.84 L198.22,147.79 L198.85,142.73 L199.52,138.66 L200.24,134.73 L201,131.47 L201.82,128.63 L202.67,125.22 L203.58,120.27 L204.53,115.46 L205.53,111.28 L206.57,107.53 L207.66,104.07 L208.8,101.08 L209.98,98.57 L211.21,96.3 L212.49,94.12 L213.81,92.11 L215.18,90.41 L216.59,88.96 L218.06,87.6 L219.56,86.23 L221.12,84.88 L222.72,83.69 L224.37,82.64 L226.06,81.6 L227.8,80.48 L229.59,79.34 L231.42,78.23 L233.3,77.15 L235.22,76.07 L237.19,75 L239.21,73.93 L241.28,72.85 L243.39,71.76 L245.55,70.66 L247.75,69.55 L250,68.45 L252,67.5 L257.04,65.2 L262.09,63.01 L267.13,60.92 L272.17,58.87 L277.22,56.95 L282.26,55.29 L287.3,53.84 L292.35,52.5 L297.39,51.2 L302.43,49.83 L307.48,48.38 L312.52,46.92 L317.57,45.48 L322.61,44.15 L327.65,42.98 L332.7,41.99 L337.74,41.08 L342.78,40.23 L347.83,39.46 L352.87,38.78 L357.91,38.21 L362.96,37.74 L368,37.37 L373.04,37.04 L378.09,36.73 L383.13,36.39 L388.17,36.07 L393.22,35.75 L398.26,35.42 L403.3,35.06 L408.35,34.66 L413.39,34.26 L418.43,33.9 L423.48,33.59 L428.52,33.31 L433.57,33.05 L438.61,32.81 L443.65,32.58 L448.7,32.36 L453.74,32.15 L458.78,31.95 L463.83,31.76 L468.87,31.58 L473.91,31.4 L478.96,31.23 L484,31.07 L489.04,30.9 L494.09,30.74 L499.13,30.62 L504.17,30.52 L509.22,30.44 L514.26,30.37 L519.3,30.31 L524.35,30.25 L529.39,30.21 L534.43,30.16 L539.48,30.11 L544.52,30.07 L549.57,30.03 L554.61,30.01 L559.65,30 L564.7,30 L569.74,30 L574.78,30 L579.83,30 L584.87,30 L589.91,30 L594.96,30 L600,30" fill="none" stroke="#8B0000" stroke-opacity="0.22" stroke-width="0.7"/>
<path d="M194.1,237.82 L194.13,237.98 L194.22,237.85 L194.36,236.7 L194.56,234.33 L194.82,230.85 L195.14,226.46 L195.51,221.44 L195.95,216.08 L196.44,210.68 L196.99,205.53 L197.59,200.76 L198.26,196.39 L198.98,192.45 L199.76,188.89 L200.6,185.65 L201.49,182.69 L202.44,179.93 L203.46,177.32 L204.52,174.79 L205.65,172.28 L206.83,169.78 L208.07,167.26 L209.37,164.74 L210.73,162.21 L212.15,159.67 L213.62,157.13 L215.15,154.59 L216.74,152.05 L218.38,149.53 L220.09,147.01 L221.85,144.52 L223.67,142.04 L225.54,139.59 L227.48,137.17 L229.47,134.79 L231.52,132.44 L233.63,130.13 L235.79,127.84 L238.02,125.57 L240.3,123.32 L242.64,121.08 L245.03,118.84 L247.49,116.6 L250,114.34 L252,112.57 L259.13,106.36 L266.25,100.26 L273.38,94.46 L280.51,89.16 L287.64,84.36 L294.76,80.01 L301.89,76.04 L309.02,72.42 L316.14,69.1 L323.27,66.06 L330.4,63.26 L337.53,60.68 L344.65,58.3 L351.78,56.1 L358.91,54.06 L366.03,52.18 L373.16,50.44 L380.29,48.82 L387.42,47.33 L394.54,45.93 L401.67,44.64 L408.8,43.44 L415.92,42.32 L423.05,41.28 L430.18,40.31 L437.31,39.42 L444.43,38.58 L451.56,37.8 L458.69,37.08 L465.81,36.42 L472.94,35.8 L480.07,35.23 L487.19,34.7 L494.32,34.21 L501.45,33.77 L508.58,33.36 L515.7,32.98 L522.83,32.64 L529.96,32.33 L537.08,32.05 L544.21,31.74 L551.34,31.58 L558.47,31.45 L565.59,31.35 L572.72,31.25 L579.85,31.17 L586.97,31.09 L594.1,31.01 L601.23,30.94 L608.36,30.87 L615.48,30.81 L622.61,30.74 L629.74,30.68 L636.86,30.62 L643.99,30.56 L651.12,30.51 L658.25,30.45 L665.37,30.4 L672.5,30.35" fill="none" stroke="#000" stroke-width="7.9" stroke-linecap="round" stroke-linejoin="round"/>
<line x1="211.5" y1="301.7" x2="211.5" y2="17.3" stroke="#858585" stroke-width="4" stroke-dasharray="4 5.95"/>
<line x1="165.2" y1="282.62" x2="170.2" y2="282.62" stroke="#6e6e6e" stroke-width="2" />
<line x1="165.2" y1="269.33" x2="170.2" y2="269.33" stroke="#6e6e6e" stroke-width="2" />
<line x1="165.2" y1="256.05" x2="170.2" y2="256.05" stroke="#6e6e6e" stroke-width="2" />
<line x1="165.2" y1="242.77" x2="170.2" y2="242.77" stroke="#6e6e6e" stroke-width="2" />
<line x1="165.2" y1="216.2" x2="170.2" y2="216.2" stroke="#6e6e6e" stroke-width="2" />
<line x1="165.2" y1="202.92" x2="170.2" y2="202.92" stroke="#6e6e6e" stroke-width="2" />
<line x1="165.2" y1="189.64" x2="170.2" y2="189.64" stroke="#6e6e6e" stroke-width="2" />
<line x1="165.2" y1="176.35" x2="170.2" y2="176.35" stroke="#6e6e6e" stroke-width="2" />
<line x1="165.2" y1="149.79" x2="170.2" y2="149.79" stroke="#6e6e6e" stroke-width="2" />
<line x1="165.2" y1="136.5" x2="170.2" y2="136.5" stroke="#6e6e6e" stroke-width="2" />
<line x1="165.2" y1="123.22" x2="170.2" y2="123.22" stroke="#6e6e6e" stroke-width="2" />
<line x1="165.2" y1="109.94" x2="170.2" y2="109.94" stroke="#6e6e6e" stroke-width="2" />
<line x1="165.2" y1="83.37" x2="170.2" y2="83.37" stroke="#6e6e6e" stroke-width="2" />
<line x1="165.2" y1="70.09" x2="170.2" y2="70.09" stroke="#6e6e6e" stroke-width="2" />
<line x1="165.2" y1="56.81" x2="170.2" y2="56.81" stroke="#6e6e6e" stroke-width="2" />
<line x1="165.2" y1="43.52" x2="170.2" y2="43.52" stroke="#6e6e6e" stroke-width="2" />
<line x1="158.9" y1="295.9" x2="170.2" y2="295.9" stroke="#1f1f1f" stroke-width="3" />
<line x1="158.9" y1="229.48" x2="170.2" y2="229.48" stroke="#1f1f1f" stroke-width="3" />
<line x1="158.9" y1="163.07" x2="170.2" y2="163.07" stroke="#1f1f1f" stroke-width="3" />
<line x1="158.9" y1="96.65" x2="170.2" y2="96.65" stroke="#1f1f1f" stroke-width="3" />
<line x1="158.9" y1="30.24" x2="170.2" y2="30.24" stroke="#1f1f1f" stroke-width="3" />
<text transform="translate(151.6,306.88) scale(1,1.07)" font-size="29.6" text-anchor="end" fill="#262626" stroke="#262626" font-weight="normal" font-style="normal"  stroke-width="0.55">0%</text>
<text transform="translate(151.6,240.46) scale(1,1.07)" font-size="29.6" text-anchor="end" fill="#262626" stroke="#262626" font-weight="normal" font-style="normal"  stroke-width="0.55">25%</text>
<text transform="translate(151.6,174.05) scale(1,1.07)" font-size="29.6" text-anchor="end" fill="#262626" stroke="#262626" font-weight="normal" font-style="normal"  stroke-width="0.55">50%</text>
<text transform="translate(151.6,107.63) scale(1,1.07)" font-size="29.6" text-anchor="end" fill="#262626" stroke="#262626" font-weight="normal" font-style="normal"  stroke-width="0.55">75%</text>
<text transform="translate(151.6,41.22) scale(1,1.07)" font-size="29.6" text-anchor="end" fill="#262626" stroke="#262626" font-weight="normal" font-style="normal"  stroke-width="0.55">100%</text>
<line x1="216.4" y1="301.7" x2="216.4" y2="306.7" stroke="#6e6e6e" stroke-width="2" />
<line x1="240.4" y1="301.7" x2="240.4" y2="306.7" stroke="#6e6e6e" stroke-width="2" />
<line x1="264.4" y1="301.7" x2="264.4" y2="306.7" stroke="#6e6e6e" stroke-width="2" />
<line x1="288.4" y1="301.7" x2="288.4" y2="306.7" stroke="#6e6e6e" stroke-width="2" />
<line x1="336.4" y1="301.7" x2="336.4" y2="306.7" stroke="#6e6e6e" stroke-width="2" />
<line x1="360.4" y1="301.7" x2="360.4" y2="306.7" stroke="#6e6e6e" stroke-width="2" />
<line x1="384.4" y1="301.7" x2="384.4" y2="306.7" stroke="#6e6e6e" stroke-width="2" />
<line x1="408.4" y1="301.7" x2="408.4" y2="306.7" stroke="#6e6e6e" stroke-width="2" />
<line x1="456.4" y1="301.7" x2="456.4" y2="306.7" stroke="#6e6e6e" stroke-width="2" />
<line x1="480.4" y1="301.7" x2="480.4" y2="306.7" stroke="#6e6e6e" stroke-width="2" />
<line x1="504.4" y1="301.7" x2="504.4" y2="306.7" stroke="#6e6e6e" stroke-width="2" />
<line x1="528.4" y1="301.7" x2="528.4" y2="306.7" stroke="#6e6e6e" stroke-width="2" />
<line x1="576.4" y1="301.7" x2="576.4" y2="306.7" stroke="#6e6e6e" stroke-width="2" />
<line x1="600.4" y1="301.7" x2="600.4" y2="306.7" stroke="#6e6e6e" stroke-width="2" />
<line x1="624.4" y1="301.7" x2="624.4" y2="306.7" stroke="#6e6e6e" stroke-width="2" />
<line x1="648.4" y1="301.7" x2="648.4" y2="306.7" stroke="#6e6e6e" stroke-width="2" />
<line x1="192.4" y1="301.7" x2="192.4" y2="313" stroke="#1f1f1f" stroke-width="3" />
<line x1="312.4" y1="301.7" x2="312.4" y2="313" stroke="#1f1f1f" stroke-width="3" />
<line x1="432.4" y1="301.7" x2="432.4" y2="313" stroke="#1f1f1f" stroke-width="3" />
<line x1="552.4" y1="301.7" x2="552.4" y2="313" stroke="#1f1f1f" stroke-width="3" />
<line x1="672.4" y1="301.7" x2="672.4" y2="313" stroke="#1f1f1f" stroke-width="3" />
<text transform="translate(192.4,341.4) scale(1,1.07)" font-size="29.6" text-anchor="middle" fill="#262626" stroke="#262626" font-weight="normal" font-style="normal"  stroke-width="0.55">0%</text>
<text transform="translate(312.4,341.4) scale(1,1.07)" font-size="29.6" text-anchor="middle" fill="#262626" stroke="#262626" font-weight="normal" font-style="normal"  stroke-width="0.55">25%</text>
<text transform="translate(432.4,341.4) scale(1,1.07)" font-size="29.6" text-anchor="middle" fill="#262626" stroke="#262626" font-weight="normal" font-style="normal"  stroke-width="0.55">50%</text>
<text transform="translate(552.4,341.4) scale(1,1.07)" font-size="29.6" text-anchor="middle" fill="#262626" stroke="#262626" font-weight="normal" font-style="normal"  stroke-width="0.55">75%</text>
<text transform="translate(672.4,341.4) scale(1,1.07)" font-size="29.6" text-anchor="middle" fill="#262626" stroke="#262626" font-weight="normal" font-style="normal"  stroke-width="0.55">100%</text>
<text transform="translate(433.2,378.5) scale(1,1.05)" font-size="33.7" text-anchor="middle" fill="#262626" stroke="#262626" font-weight="normal" font-style="normal"  stroke-width="0.55">Cumulative fraction of sites</text>
<g transform="translate(24.3,164.9) rotate(-90) scale(1,1.05)"><text x="0" y="0" font-size="33.7" text-anchor="middle" fill="#262626" stroke="#262626" stroke-width="0.55">Cumulative fraction of</text></g>
<g transform="translate(60.6,154.5) rotate(-90) scale(1.025,1.05)"><text x="0" y="0" font-size="33.7" text-anchor="middle" fill="#262626" stroke="#262626" stroke-width="0.55"><tspan font-style="italic">CH</tspan><tspan font-style="normal" font-size="23.59" dy="5">4</tspan><tspan dy="-5"> emissions</tspan></text></g>
<text transform="translate(179.5,46) scale(1,1.05)" font-size="43" text-anchor="start" fill="#262626" stroke="#262626" font-weight="bold" font-style="normal"  stroke-width="0.55">a</text>
<rect x="444" y="83" width="248" height="134" fill="#EDEDED"/>
<line x1="444" y1="216" x2="692" y2="216" stroke="#FFFFFF" stroke-width="2.1" />
<line x1="444" y1="184.03" x2="692" y2="184.03" stroke="#FFFFFF" stroke-width="2.1" />
<line x1="444" y1="152.05" x2="692" y2="152.05" stroke="#FFFFFF" stroke-width="2.1" />
<line x1="444" y1="120.08" x2="692" y2="120.08" stroke="#FFFFFF" stroke-width="2.1" />
<line x1="444" y1="88.1" x2="692" y2="88.1" stroke="#FFFFFF" stroke-width="2.1" />
<line x1="490.6" y1="83" x2="490.6" y2="217" stroke="#FFFFFF" stroke-width="2.1" />
<line x1="540.6" y1="83" x2="540.6" y2="217" stroke="#FFFFFF" stroke-width="2.1" />
<line x1="590.6" y1="83" x2="590.6" y2="217" stroke="#FFFFFF" stroke-width="2.1" />
<line x1="640.6" y1="83" x2="640.6" y2="217" stroke="#FFFFFF" stroke-width="2.1" />
<line x1="690.6" y1="83" x2="690.6" y2="217" stroke="#FFFFFF" stroke-width="2.1" />
<path d="M452.9,196.8 C454.37,196.58 458.15,195.92 461.7,195.5 C465.25,195.08 471.42,194.85 474.2,194.3 C476.98,193.75 476.58,192.7 478.4,192.2 C480.22,191.7 483.15,191.65 485.1,191.3 C487.05,190.95 488.72,190.87 490.1,190.1 C491.48,189.33 492.02,188.1 493.4,186.7 C494.78,185.3 496.73,183.15 498.4,181.7 C500.07,180.25 501.73,179.1 503.4,178 C505.07,176.9 507.35,176.15 508.4,175.1 C509.45,174.05 508.63,173.1 509.7,171.7 C510.77,170.3 513.45,168.08 514.8,166.7 C516.15,165.32 516.6,164.3 517.8,163.4 C519,162.5 520.6,162.42 522,161.3 C523.4,160.18 524.82,158.43 526.2,156.7 C527.58,154.97 528.92,152.85 530.3,150.9 C531.68,148.95 533.18,146.82 534.5,145 C535.82,143.18 536.87,142.2 538.2,140 C539.53,137.8 540.42,133.75 542.5,131.8 C544.58,129.85 548.9,129.9 550.7,128.3 C552.5,126.7 551.98,124.38 553.3,122.2 C554.62,120.02 556.7,116.95 558.6,115.2 C560.5,113.45 562.77,113.02 564.7,111.7 C566.63,110.38 569,108.75 570.2,107.3 C571.4,105.85 570.73,104.6 571.9,103 C573.07,101.4 575.45,99.17 577.2,97.7 C578.95,96.23 580.8,95 582.4,94.2 C584,93.4 585.05,93.4 586.8,92.9 C588.55,92.4 590.72,91.63 592.9,91.2 C595.08,90.77 597.05,90.6 599.9,90.3 C602.75,90 605.2,89.68 610,89.4 C614.8,89.12 622.43,88.82 628.7,88.6 C634.97,88.38 644.45,88.18 647.6,88.1" fill="none" stroke="#009664" stroke-width="7.4" stroke-linecap="round" stroke-linejoin="round"/>
<line x1="583.7" y1="217" x2="583.7" y2="83" stroke="#006400" stroke-width="2.2" stroke-dasharray="2.2 2.8"/>
<text transform="translate(584.4,195.6) scale(1,1.0)" font-size="22.4" text-anchor="start" fill="#006400" stroke="#006400" font-weight="normal" font-style="italic" stroke-width="0">7.3 kg/h</text>
<line x1="432.3" y1="216" x2="444" y2="216" stroke="#006400" stroke-width="4.5" />
<line x1="432.3" y1="184.03" x2="444" y2="184.03" stroke="#006400" stroke-width="4.5" />
<line x1="432.3" y1="152.05" x2="444" y2="152.05" stroke="#006400" stroke-width="4.5" />
<line x1="432.3" y1="120.08" x2="444" y2="120.08" stroke="#006400" stroke-width="4.5" />
<line x1="432.3" y1="88.1" x2="444" y2="88.1" stroke="#006400" stroke-width="4.5" />
<line x1="490.6" y1="217" x2="490.6" y2="228" stroke="#006400" stroke-width="4.5" />
<line x1="540.6" y1="217" x2="540.6" y2="228" stroke="#006400" stroke-width="4.5" />
<line x1="590.6" y1="217" x2="590.6" y2="228" stroke="#006400" stroke-width="4.5" />
<line x1="640.6" y1="217" x2="640.6" y2="228" stroke="#006400" stroke-width="4.5" />
<line x1="690.6" y1="217" x2="690.6" y2="228" stroke="#006400" stroke-width="4.5" />
<text transform="translate(425.2,223.9) scale(1,1.07)" font-size="21.8" text-anchor="end" fill="#006400" stroke="#006400" font-weight="normal" font-style="normal" stroke-width="0.05">0%</text>
<text transform="translate(425.2,191.93) scale(1,1.07)" font-size="21.8" text-anchor="end" fill="#006400" stroke="#006400" font-weight="normal" font-style="normal" stroke-width="0.05">25%</text>
<text transform="translate(425.2,159.95) scale(1,1.07)" font-size="21.8" text-anchor="end" fill="#006400" stroke="#006400" font-weight="normal" font-style="normal" stroke-width="0.05">50%</text>
<text transform="translate(425.2,127.98) scale(1,1.07)" font-size="21.8" text-anchor="end" fill="#006400" stroke="#006400" font-weight="normal" font-style="normal" stroke-width="0.05">75%</text>
<text transform="translate(425.2,96) scale(1,1.07)" font-size="21.8" text-anchor="end" fill="#006400" stroke="#006400" font-weight="normal" font-style="normal" stroke-width="0.05">100%</text>
<text transform="translate(490.6,250.4) scale(1,1.07)" font-size="21.8" text-anchor="middle" fill="#006400" stroke="#006400" font-weight="normal" font-style="normal" stroke-width="0.05">0.1</text>
<text transform="translate(540.6,250.4) scale(1,1.07)" font-size="21.8" text-anchor="middle" fill="#006400" stroke="#006400" font-weight="normal" font-style="normal" stroke-width="0.05">1</text>
<text transform="translate(590.6,250.4) scale(1,1.07)" font-size="21.8" text-anchor="middle" fill="#006400" stroke="#006400" font-weight="normal" font-style="normal" stroke-width="0.05">10</text>
<text transform="translate(640.6,250.4) scale(1,1.07)" font-size="21.8" text-anchor="middle" fill="#006400" stroke="#006400" font-weight="normal" font-style="normal" stroke-width="0.05">100</text>
<text transform="translate(690.6,250.4) scale(1,1.07)" font-size="21.8" text-anchor="middle" fill="#006400" stroke="#006400" font-weight="normal" font-style="normal" stroke-width="0.05">1000</text>
<text transform="translate(566,282) scale(1.02,1.05)" font-size="26.2" text-anchor="middle" fill="#006400" stroke="#006400" stroke-width="0">Site-level <tspan font-style="italic">CH</tspan><tspan font-style="normal" font-size="18.3" dy="4.4">4</tspan><tspan dy="-4.4"> (kg/h)</tspan></text>
<g transform="translate(355.5,149.5) rotate(-90)"><text x="0" y="0" font-size="26" text-anchor="middle" fill="#006400" stroke="#006400" stroke-width="0">% of sites</text></g>
<rect x="834.1" y="18.1" width="459.9" height="282.5" fill="#EDEDED"/>
<line x1="838.5" y1="18.1" x2="838.5" y2="300.6" stroke="#FFFFFF" stroke-width="2.1" />
<line x1="915.68" y1="18.1" x2="915.68" y2="300.6" stroke="#FFFFFF" stroke-width="2.1" />
<line x1="992.86" y1="18.1" x2="992.86" y2="300.6" stroke="#FFFFFF" stroke-width="2.1" />
<line x1="1070.04" y1="18.1" x2="1070.04" y2="300.6" stroke="#FFFFFF" stroke-width="2.1" />
<line x1="1147.22" y1="18.1" x2="1147.22" y2="300.6" stroke="#FFFFFF" stroke-width="2.1" />
<line x1="1224.4" y1="18.1" x2="1224.4" y2="300.6" stroke="#FFFFFF" stroke-width="2.1" />
<line x1="834.1" y1="213.7" x2="1294" y2="213.7" stroke="#FFFFFF" stroke-width="2.1" />
<line x1="834.1" y1="126.8" x2="1294" y2="126.8" stroke="#FFFFFF" stroke-width="2.1" />
<line x1="834.1" y1="39.9" x2="1294" y2="39.9" stroke="#FFFFFF" stroke-width="2.1" />
<clipPath id="cb"><rect x="834.1" y="18.1" width="459.9" height="283.6"/></clipPath>
<path clip-path="url(#cb)" d="M854.6,301.6 L854.6,300.3 L896.37,300.3 L896.37,283.6 L938.14,283.6 L938.14,242.6 L979.91,242.6 L979.91,99.2 L1021.68,99.2 L1021.68,31.5 L1063.45,31.5 L1063.45,174.5 L1105.22,174.5 L1105.22,206.5 L1146.99,206.5 L1146.99,278.9 L1188.76,278.9 L1188.76,292.8 L1230.53,292.8 L1230.53,299.6 L1272.3,299.6 L1272.3,301.6" fill="none" stroke="#9467bd" stroke-opacity="0.72" stroke-width="4.8" stroke-linejoin="miter"/>
<line x1="822.8" y1="300.6" x2="834.1" y2="300.6" stroke="#1f1f1f" stroke-width="3" />
<line x1="822.8" y1="213.7" x2="834.1" y2="213.7" stroke="#1f1f1f" stroke-width="3" />
<line x1="822.8" y1="126.8" x2="834.1" y2="126.8" stroke="#1f1f1f" stroke-width="3" />
<line x1="822.8" y1="39.9" x2="834.1" y2="39.9" stroke="#1f1f1f" stroke-width="3" />
<text transform="translate(815.6,311.58) scale(1,1.07)" font-size="29.6" text-anchor="end" fill="#262626" stroke="#262626" font-weight="normal" font-style="normal"  stroke-width="0.55">0.0</text>
<text transform="translate(815.6,224.68) scale(1,1.07)" font-size="29.6" text-anchor="end" fill="#262626" stroke="#262626" font-weight="normal" font-style="normal"  stroke-width="0.55">0.1</text>
<text transform="translate(815.6,137.78) scale(1,1.07)" font-size="29.6" text-anchor="end" fill="#262626" stroke="#262626" font-weight="normal" font-style="normal"  stroke-width="0.55">0.2</text>
<text transform="translate(815.6,50.88) scale(1,1.07)" font-size="29.6" text-anchor="end" fill="#262626" stroke="#262626" font-weight="normal" font-style="normal"  stroke-width="0.55">0.3</text>
<line x1="857.79" y1="301.5" x2="857.79" y2="306.5" stroke="#6e6e6e" stroke-width="2" />
<line x1="877.09" y1="301.5" x2="877.09" y2="306.5" stroke="#6e6e6e" stroke-width="2" />
<line x1="896.38" y1="301.5" x2="896.38" y2="306.5" stroke="#6e6e6e" stroke-width="2" />
<line x1="934.98" y1="301.5" x2="934.98" y2="306.5" stroke="#6e6e6e" stroke-width="2" />
<line x1="954.27" y1="301.5" x2="954.27" y2="306.5" stroke="#6e6e6e" stroke-width="2" />
<line x1="973.57" y1="301.5" x2="973.57" y2="306.5" stroke="#6e6e6e" stroke-width="2" />
<line x1="1012.15" y1="301.5" x2="1012.15" y2="306.5" stroke="#6e6e6e" stroke-width="2" />
<line x1="1031.45" y1="301.5" x2="1031.45" y2="306.5" stroke="#6e6e6e" stroke-width="2" />
<line x1="1050.74" y1="301.5" x2="1050.74" y2="306.5" stroke="#6e6e6e" stroke-width="2" />
<line x1="1089.34" y1="301.5" x2="1089.34" y2="306.5" stroke="#6e6e6e" stroke-width="2" />
<line x1="1108.63" y1="301.5" x2="1108.63" y2="306.5" stroke="#6e6e6e" stroke-width="2" />
<line x1="1127.92" y1="301.5" x2="1127.92" y2="306.5" stroke="#6e6e6e" stroke-width="2" />
<line x1="1166.52" y1="301.5" x2="1166.52" y2="306.5" stroke="#6e6e6e" stroke-width="2" />
<line x1="1185.81" y1="301.5" x2="1185.81" y2="306.5" stroke="#6e6e6e" stroke-width="2" />
<line x1="1205.11" y1="301.5" x2="1205.11" y2="306.5" stroke="#6e6e6e" stroke-width="2" />
<line x1="1243.7" y1="301.5" x2="1243.7" y2="306.5" stroke="#6e6e6e" stroke-width="2" />
<line x1="1262.99" y1="301.5" x2="1262.99" y2="306.5" stroke="#6e6e6e" stroke-width="2" />
<line x1="1282.29" y1="301.5" x2="1282.29" y2="306.5" stroke="#6e6e6e" stroke-width="2" />
<line x1="838.5" y1="301.5" x2="838.5" y2="312.8" stroke="#1f1f1f" stroke-width="3" />
<line x1="915.68" y1="301.5" x2="915.68" y2="312.8" stroke="#1f1f1f" stroke-width="3" />
<line x1="992.86" y1="301.5" x2="992.86" y2="312.8" stroke="#1f1f1f" stroke-width="3" />
<line x1="1070.04" y1="301.5" x2="1070.04" y2="312.8" stroke="#1f1f1f" stroke-width="3" />
<line x1="1147.22" y1="301.5" x2="1147.22" y2="312.8" stroke="#1f1f1f" stroke-width="3" />
<line x1="1224.4" y1="301.5" x2="1224.4" y2="312.8" stroke="#1f1f1f" stroke-width="3" />
<text transform="translate(838.5,341.4) scale(1,1.07)" font-size="29.6" text-anchor="middle" fill="#262626" stroke="#262626" font-weight="normal" font-style="normal"  stroke-width="0.55">0%</text>
<text transform="translate(915.68,341.4) scale(1,1.07)" font-size="29.6" text-anchor="middle" fill="#262626" stroke="#262626" font-weight="normal" font-style="normal"  stroke-width="0.55">2%</text>
<text transform="translate(992.86,341.4) scale(1,1.07)" font-size="29.6" text-anchor="middle" fill="#262626" stroke="#262626" font-weight="normal" font-style="normal"  stroke-width="0.55">4%</text>
<text transform="translate(1070.04,341.4) scale(1,1.07)" font-size="29.6" text-anchor="middle" fill="#262626" stroke="#262626" font-weight="normal" font-style="normal"  stroke-width="0.55">6%</text>
<text transform="translate(1147.22,341.4) scale(1,1.07)" font-size="29.6" text-anchor="middle" fill="#262626" stroke="#262626" font-weight="normal" font-style="normal"  stroke-width="0.55">8%</text>
<text transform="translate(1224.4,341.4) scale(1,1.07)" font-size="29.6" text-anchor="middle" fill="#262626" stroke="#262626" font-weight="normal" font-style="normal"  stroke-width="0.55">10%</text>
<text transform="translate(1064,378.5) scale(1,1.05)" font-size="33.7" text-anchor="middle" fill="#262626" stroke="#262626" font-weight="normal" font-style="normal"  stroke-width="0.55">Frequency of high-emitters</text>
<g transform="translate(759.6,160.4) rotate(-90) scale(1,1.05)"><text x="0" y="0" font-size="33.7" text-anchor="middle" fill="#262626" stroke="#262626" stroke-width="0.55">Density</text></g>
<text transform="translate(853.6,45.9) scale(1,1.05)" font-size="43" text-anchor="start" fill="#262626" stroke="#262626" font-weight="bold" font-style="normal"  stroke-width="0.55">b</text>
<rect x="170.1" y="410.2" width="524.7" height="283.1" fill="#EDEDED"/>
<line x1="278.3" y1="410.2" x2="278.3" y2="693.3" stroke="#FFFFFF" stroke-width="2.1" />
<line x1="421.25" y1="410.2" x2="421.25" y2="693.3" stroke="#FFFFFF" stroke-width="2.1" />
<line x1="564.2" y1="410.2" x2="564.2" y2="693.3" stroke="#FFFFFF" stroke-width="2.1" />
<line x1="170.1" y1="610.4" x2="694.8" y2="610.4" stroke="#FFFFFF" stroke-width="2.1" />
<line x1="170.1" y1="527.5" x2="694.8" y2="527.5" stroke="#FFFFFF" stroke-width="2.1" />
<line x1="170.1" y1="444.6" x2="694.8" y2="444.6" stroke="#FFFFFF" stroke-width="2.1" />
<clipPath id="cc"><rect x="170.1" y="410.2" width="524.7" height="284.2"/></clipPath>
<path clip-path="url(#cc)" d="M194.4,694.3 L194.4,692.5 L242.1,692.5 L242.1,680.4 L289.8,680.4 L289.8,626.5 L337.5,626.5 L337.5,505.8 L385.2,505.8 L385.2,423.5 L432.9,423.5 L432.9,443.2 L480.6,443.2 L480.6,551.7 L528.3,551.7 L528.3,642.5 L576,642.5 L576,681.6 L623.7,681.6 L623.7,691.5 L671.4,691.5 L671.4,694.3" fill="none" stroke="#8B0000" stroke-opacity="0.7" stroke-width="4.8"/>
<line x1="158.8" y1="693.3" x2="170.1" y2="693.3" stroke="#1f1f1f" stroke-width="3" />
<line x1="158.8" y1="610.4" x2="170.1" y2="610.4" stroke="#1f1f1f" stroke-width="3" />
<line x1="158.8" y1="527.5" x2="170.1" y2="527.5" stroke="#1f1f1f" stroke-width="3" />
<line x1="158.8" y1="444.6" x2="170.1" y2="444.6" stroke="#1f1f1f" stroke-width="3" />
<text transform="translate(152.8,704.28) scale(1,1.07)" font-size="29.6" text-anchor="end" fill="#262626" stroke="#262626" font-weight="normal" font-style="normal"  stroke-width="0.55">0.00</text>
<text transform="translate(152.8,621.38) scale(1,1.07)" font-size="29.6" text-anchor="end" fill="#262626" stroke="#262626" font-weight="normal" font-style="normal"  stroke-width="0.55">0.05</text>
<text transform="translate(152.8,538.48) scale(1,1.07)" font-size="29.6" text-anchor="end" fill="#262626" stroke="#262626" font-weight="normal" font-style="normal"  stroke-width="0.55">0.10</text>
<text transform="translate(152.8,455.58) scale(1,1.07)" font-size="29.6" text-anchor="end" fill="#262626" stroke="#262626" font-weight="normal" font-style="normal"  stroke-width="0.55">0.15</text>
<line x1="192.53" y1="694" x2="192.53" y2="699" stroke="#6e6e6e" stroke-width="2" />
<line x1="221.12" y1="694" x2="221.12" y2="699" stroke="#6e6e6e" stroke-width="2" />
<line x1="249.71" y1="694" x2="249.71" y2="699" stroke="#6e6e6e" stroke-width="2" />
<line x1="306.89" y1="694" x2="306.89" y2="699" stroke="#6e6e6e" stroke-width="2" />
<line x1="335.48" y1="694" x2="335.48" y2="699" stroke="#6e6e6e" stroke-width="2" />
<line x1="364.07" y1="694" x2="364.07" y2="699" stroke="#6e6e6e" stroke-width="2" />
<line x1="392.66" y1="694" x2="392.66" y2="699" stroke="#6e6e6e" stroke-width="2" />
<line x1="449.84" y1="694" x2="449.84" y2="699" stroke="#6e6e6e" stroke-width="2" />
<line x1="478.43" y1="694" x2="478.43" y2="699" stroke="#6e6e6e" stroke-width="2" />
<line x1="507.02" y1="694" x2="507.02" y2="699" stroke="#6e6e6e" stroke-width="2" />
<line x1="535.61" y1="694" x2="535.61" y2="699" stroke="#6e6e6e" stroke-width="2" />
<line x1="592.79" y1="694" x2="592.79" y2="699" stroke="#6e6e6e" stroke-width="2" />
<line x1="621.38" y1="694" x2="621.38" y2="699" stroke="#6e6e6e" stroke-width="2" />
<line x1="649.97" y1="694" x2="649.97" y2="699" stroke="#6e6e6e" stroke-width="2" />
<line x1="678.56" y1="694" x2="678.56" y2="699" stroke="#6e6e6e" stroke-width="2" />
<line x1="278.3" y1="694" x2="278.3" y2="705.3" stroke="#1f1f1f" stroke-width="3" />
<line x1="421.25" y1="694" x2="421.25" y2="705.3" stroke="#1f1f1f" stroke-width="3" />
<line x1="564.2" y1="694" x2="564.2" y2="705.3" stroke="#1f1f1f" stroke-width="3" />
<text transform="translate(278.3,734.2) scale(1,1.07)" font-size="29.6" text-anchor="middle" fill="#262626" stroke="#262626" font-weight="normal" font-style="normal"  stroke-width="0.55">10%</text>
<text transform="translate(421.25,734.2) scale(1,1.07)" font-size="29.6" text-anchor="middle" fill="#262626" stroke="#262626" font-weight="normal" font-style="normal"  stroke-width="0.55">15%</text>
<text transform="translate(564.2,734.2) scale(1,1.07)" font-size="29.6" text-anchor="middle" fill="#262626" stroke="#262626" font-weight="normal" font-style="normal"  stroke-width="0.55">20%</text>
<text transform="translate(432.5,771.3) scale(1,1.05)" font-size="33.7" text-anchor="middle" fill="#262626" stroke="#262626" font-weight="normal" font-style="normal"  stroke-width="0.55">Frequency of BDL sites</text>
<g transform="translate(61,552.5) rotate(-90) scale(1,1.05)"><text x="0" y="0" font-size="33.7" text-anchor="middle" fill="#262626" stroke="#262626" stroke-width="0.55">Density</text></g>
<text transform="translate(188.7,439) scale(1,1.05)" font-size="43" text-anchor="start" fill="#262626" stroke="#262626" font-weight="bold" font-style="normal"  stroke-width="0.55">c</text>
<rect x="834.4" y="409.9" width="459" height="282.9" fill="#EDEDED"/>
<line x1="930.2" y1="409.9" x2="930.2" y2="692.8" stroke="#FFFFFF" stroke-width="2.1" />
<line x1="990.6" y1="409.9" x2="990.6" y2="692.8" stroke="#FFFFFF" stroke-width="2.1" />
<line x1="1040.2" y1="409.9" x2="1040.2" y2="692.8" stroke="#FFFFFF" stroke-width="2.1" />
<line x1="1101.1" y1="409.9" x2="1101.1" y2="692.8" stroke="#FFFFFF" stroke-width="2.1" />
<line x1="1179.3" y1="409.9" x2="1179.3" y2="692.8" stroke="#FFFFFF" stroke-width="2.1" />
<line x1="1240.2" y1="409.9" x2="1240.2" y2="692.8" stroke="#FFFFFF" stroke-width="2.1" />
<line x1="1291.7" y1="409.9" x2="1291.7" y2="692.8" stroke="#FFFFFF" stroke-width="2.1" />
<line x1="834.4" y1="590.8" x2="1293.4" y2="590.8" stroke="#FFFFFF" stroke-width="2.1" />
<line x1="834.4" y1="488.8" x2="1293.4" y2="488.8" stroke="#FFFFFF" stroke-width="2.1" />
<clipPath id="cd"><rect x="834.4" y="409.9" width="459" height="284"/></clipPath>
<path clip-path="url(#cd)" d="M912,693.8 L912,692.5 L936.15,692.5 L936.15,690.9 L960.3,690.9 L960.3,423.6 L984.45,423.6 L984.45,522.4 L1008.6,522.4 L1008.6,632.6 L1032.75,632.6 L1032.75,691.3 L1056.9,691.3 L1056.9,679.9 L1081.05,679.9 L1081.05,690.2 L1105.2,690.2 L1105.2,692.4 L1129.35,692.4 L1129.35,692 L1153.5,692 L1153.5,691.7 L1177.65,691.7 L1177.65,691.7 L1201.8,691.7 L1201.8,692 L1225.95,692 L1225.95,692.2 L1250.1,692.2 L1250.1,692.5 L1274.25,692.5 L1274.25,693.8" fill="none" stroke="#0000FF" stroke-opacity="0.58" stroke-width="4.8"/>
<line x1="823.1" y1="692.8" x2="834.4" y2="692.8" stroke="#1f1f1f" stroke-width="3" />
<line x1="823.1" y1="590.8" x2="834.4" y2="590.8" stroke="#1f1f1f" stroke-width="3" />
<line x1="823.1" y1="488.8" x2="834.4" y2="488.8" stroke="#1f1f1f" stroke-width="3" />
<text transform="translate(815.7,703.78) scale(1,1.07)" font-size="29.6" text-anchor="end" fill="#262626" stroke="#262626" font-weight="normal" font-style="normal"  stroke-width="0.55">0</text>
<text transform="translate(815.7,601.78) scale(1,1.07)" font-size="29.6" text-anchor="end" fill="#262626" stroke="#262626" font-weight="normal" font-style="normal"  stroke-width="0.55">5</text>
<text transform="translate(815.7,499.78) scale(1,1.07)" font-size="29.6" text-anchor="end" fill="#262626" stroke="#262626" font-weight="normal" font-style="normal"  stroke-width="0.55">10</text>
<line x1="858.1" y1="693.5" x2="858.1" y2="698.5" stroke="#6e6e6e" stroke-width="2" />
<line x1="882.1" y1="693.5" x2="882.1" y2="698.5" stroke="#6e6e6e" stroke-width="2" />
<line x1="906.1" y1="693.5" x2="906.1" y2="698.5" stroke="#6e6e6e" stroke-width="2" />
<line x1="954.1" y1="693.5" x2="954.1" y2="698.5" stroke="#6e6e6e" stroke-width="2" />
<line x1="978.1" y1="693.5" x2="978.1" y2="698.5" stroke="#6e6e6e" stroke-width="2" />
<line x1="1002.1" y1="693.5" x2="1002.1" y2="698.5" stroke="#6e6e6e" stroke-width="2" />
<line x1="1026.1" y1="693.5" x2="1026.1" y2="698.5" stroke="#6e6e6e" stroke-width="2" />
<line x1="1050.1" y1="693.5" x2="1050.1" y2="698.5" stroke="#6e6e6e" stroke-width="2" />
<line x1="1074.1" y1="693.5" x2="1074.1" y2="698.5" stroke="#6e6e6e" stroke-width="2" />
<line x1="1098.1" y1="693.5" x2="1098.1" y2="698.5" stroke="#6e6e6e" stroke-width="2" />
<line x1="1122.1" y1="693.5" x2="1122.1" y2="698.5" stroke="#6e6e6e" stroke-width="2" />
<line x1="1146.1" y1="693.5" x2="1146.1" y2="698.5" stroke="#6e6e6e" stroke-width="2" />
<line x1="1170.1" y1="693.5" x2="1170.1" y2="698.5" stroke="#6e6e6e" stroke-width="2" />
<line x1="1194.1" y1="693.5" x2="1194.1" y2="698.5" stroke="#6e6e6e" stroke-width="2" />
<line x1="1218.1" y1="693.5" x2="1218.1" y2="698.5" stroke="#6e6e6e" stroke-width="2" />
<line x1="1242.1" y1="693.5" x2="1242.1" y2="698.5" stroke="#6e6e6e" stroke-width="2" />
<line x1="1266.1" y1="693.5" x2="1266.1" y2="698.5" stroke="#6e6e6e" stroke-width="2" />
<line x1="1290.1" y1="693.5" x2="1290.1" y2="698.5" stroke="#6e6e6e" stroke-width="2" />
<line x1="834.1" y1="693.5" x2="834.1" y2="704.8" stroke="#1f1f1f" stroke-width="3" />
<line x1="930.2" y1="693.5" x2="930.2" y2="704.8" stroke="#1f1f1f" stroke-width="3" />
<line x1="990.6" y1="693.5" x2="990.6" y2="704.8" stroke="#1f1f1f" stroke-width="3" />
<line x1="1040.2" y1="693.5" x2="1040.2" y2="704.8" stroke="#1f1f1f" stroke-width="3" />
<line x1="1101.1" y1="693.5" x2="1101.1" y2="704.8" stroke="#1f1f1f" stroke-width="3" />
<line x1="1179.3" y1="693.5" x2="1179.3" y2="704.8" stroke="#1f1f1f" stroke-width="3" />
<line x1="1240.2" y1="693.5" x2="1240.2" y2="704.8" stroke="#1f1f1f" stroke-width="3" />
<line x1="1290.4" y1="693.5" x2="1290.4" y2="704.8" stroke="#1f1f1f" stroke-width="3" />
<text transform="translate(834.1,734.2) scale(1,1.07)" font-size="29.6" text-anchor="middle" fill="#262626" stroke="#262626" font-weight="normal" font-style="normal"  stroke-width="0.55">6</text>
<text transform="translate(930.2,734.2) scale(1,1.07)" font-size="29.6" text-anchor="middle" fill="#262626" stroke="#262626" font-weight="normal" font-style="normal"  stroke-width="0.55">8</text>
<text transform="translate(990.6,734.2) scale(1,1.07)" font-size="29.6" text-anchor="middle" fill="#262626" stroke="#262626" font-weight="normal" font-style="normal"  stroke-width="0.55">10</text>
<text transform="translate(1040.2,734.2) scale(1,1.07)" font-size="29.6" text-anchor="middle" fill="#262626" stroke="#262626" font-weight="normal" font-style="normal"  stroke-width="0.55">12</text>
<text transform="translate(1101.1,734.2) scale(1,1.07)" font-size="29.6" text-anchor="middle" fill="#262626" stroke="#262626" font-weight="normal" font-style="normal"  stroke-width="0.55">15</text>
<text transform="translate(1179.3,734.2) scale(1,1.07)" font-size="29.6" text-anchor="middle" fill="#262626" stroke="#262626" font-weight="normal" font-style="normal"  stroke-width="0.55">20</text>
<text transform="translate(1240.2,734.2) scale(1,1.07)" font-size="29.6" text-anchor="middle" fill="#262626" stroke="#262626" font-weight="normal" font-style="normal"  stroke-width="0.55">25</text>
<text transform="translate(1290.4,734.2) scale(1,1.07)" font-size="29.6" text-anchor="middle" fill="#262626" stroke="#262626" font-weight="normal" font-style="normal"  stroke-width="0.55">30</text>
<text transform="translate(1063.4,771.3) scale(1.009,1.05)" font-size="33.7" text-anchor="middle" fill="#262626" stroke="#262626" stroke-width="0.55">High-emitter <tspan font-style="italic">CH</tspan><tspan font-style="normal" font-size="23.59" dy="5">4</tspan><tspan dy="-5"> emissions (kg/h/site)</tspan></text>
<g transform="translate(759.6,552.5) rotate(-90) scale(1,1.05)"><text x="0" y="0" font-size="33.7" text-anchor="middle" fill="#262626" stroke="#262626" stroke-width="0.55">Density</text></g>
<text transform="translate(857.7,438.9) scale(1,1.05)" font-size="43" text-anchor="start" fill="#262626" stroke="#262626" font-weight="bold" font-style="normal"  stroke-width="0.55">d</text>
</svg>
</body></html>
